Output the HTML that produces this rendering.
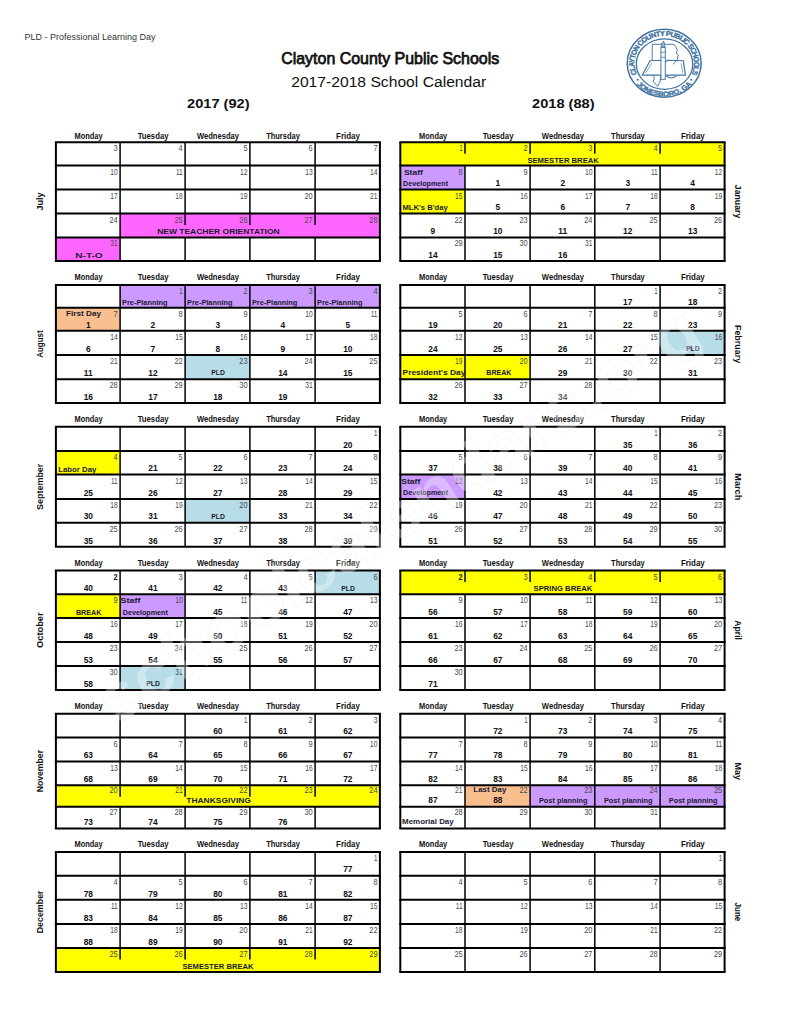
<!DOCTYPE html>
<html><head><meta charset="utf-8"><title>Clayton County Public Schools 2017-2018 School Calendar</title>
<style>
html,body{margin:0;padding:0;background:#fff;width:791px;height:1024px;overflow:hidden;}
svg{display:block;font-family:"Liberation Sans", sans-serif;}
</style></head><body>
<svg width="791" height="1024" viewBox="0 0 791 1024">
<g shape-rendering="crispEdges">
<rect x="120.10" y="213.50" width="259.80" height="23.90" fill="#ff66ff"/>
<rect x="55.90" y="237.40" width="64.20" height="23.50" fill="#ff66ff"/>
<rect x="120.10" y="285.10" width="65.00" height="22.70" fill="#cc99ff"/>
<rect x="185.10" y="285.10" width="64.80" height="22.70" fill="#cc99ff"/>
<rect x="249.90" y="285.10" width="65.20" height="22.70" fill="#cc99ff"/>
<rect x="315.10" y="285.10" width="64.80" height="22.70" fill="#cc99ff"/>
<rect x="55.90" y="307.80" width="64.20" height="23.00" fill="#fabf8f"/>
<rect x="185.10" y="355.00" width="64.80" height="24.30" fill="#b6dde8"/>
<rect x="55.90" y="451.00" width="64.20" height="23.60" fill="#ffff00"/>
<rect x="185.10" y="498.90" width="64.80" height="23.80" fill="#b6dde8"/>
<rect x="315.10" y="570.40" width="64.80" height="23.80" fill="#b6dde8"/>
<rect x="55.90" y="594.20" width="64.20" height="23.80" fill="#ffff00"/>
<rect x="120.10" y="594.20" width="65.00" height="23.80" fill="#cc99ff"/>
<rect x="120.10" y="666.00" width="65.00" height="23.90" fill="#b6dde8"/>
<rect x="55.90" y="785.30" width="324.00" height="21.40" fill="#ffff00"/>
<rect x="55.90" y="948.00" width="324.00" height="23.90" fill="#ffff00"/>
<rect x="400.30" y="142.20" width="324.30" height="23.40" fill="#ffff00"/>
<rect x="400.30" y="165.60" width="64.70" height="23.90" fill="#cc99ff"/>
<rect x="400.30" y="189.50" width="64.70" height="24.00" fill="#ffff00"/>
<rect x="660.10" y="330.80" width="64.50" height="24.20" fill="#b6dde8"/>
<rect x="400.30" y="355.00" width="64.70" height="24.30" fill="#ffff00"/>
<rect x="465.00" y="355.00" width="65.10" height="24.30" fill="#ffff00"/>
<rect x="400.30" y="474.60" width="64.70" height="24.30" fill="#cc99ff"/>
<rect x="400.30" y="570.40" width="324.30" height="23.80" fill="#ffff00"/>
<rect x="465.00" y="785.30" width="65.10" height="21.40" fill="#fabf8f"/>
<rect x="530.10" y="785.30" width="64.70" height="21.40" fill="#cc99ff"/>
<rect x="594.80" y="785.30" width="65.30" height="21.40" fill="#cc99ff"/>
<rect x="660.10" y="785.30" width="64.50" height="21.40" fill="#cc99ff"/>
</g>
<g stroke="#000">
<line x1="54.90" y1="142.20" x2="380.90" y2="142.20" stroke-width="2.0"/>
<line x1="54.90" y1="165.60" x2="380.90" y2="165.60" stroke-width="2.0"/>
<line x1="54.90" y1="189.50" x2="380.90" y2="189.50" stroke-width="2.0"/>
<line x1="54.90" y1="213.50" x2="380.90" y2="213.50" stroke-width="2.0"/>
<line x1="54.90" y1="237.40" x2="380.90" y2="237.40" stroke-width="2.0"/>
<line x1="54.90" y1="260.90" x2="380.90" y2="260.90" stroke-width="2.0"/>
<line x1="55.90" y1="142.20" x2="55.90" y2="165.60" stroke-width="2.0"/>
<line x1="55.90" y1="165.60" x2="55.90" y2="189.50" stroke-width="2.0"/>
<line x1="55.90" y1="189.50" x2="55.90" y2="213.50" stroke-width="2.0"/>
<line x1="55.90" y1="213.50" x2="55.90" y2="237.40" stroke-width="2.0"/>
<line x1="55.90" y1="237.40" x2="55.90" y2="260.90" stroke-width="2.0"/>
<line x1="120.10" y1="142.20" x2="120.10" y2="165.60" stroke-width="1.5"/>
<line x1="120.10" y1="165.60" x2="120.10" y2="189.50" stroke-width="1.5"/>
<line x1="120.10" y1="189.50" x2="120.10" y2="213.50" stroke-width="1.5"/>
<line x1="120.10" y1="213.50" x2="120.10" y2="237.40" stroke-width="1.5"/>
<line x1="120.10" y1="237.40" x2="120.10" y2="260.90" stroke-width="1.5"/>
<line x1="185.10" y1="142.20" x2="185.10" y2="165.60" stroke-width="1.5"/>
<line x1="185.10" y1="165.60" x2="185.10" y2="189.50" stroke-width="1.5"/>
<line x1="185.10" y1="189.50" x2="185.10" y2="213.50" stroke-width="1.5"/>
<line x1="185.10" y1="213.50" x2="185.10" y2="225.00" stroke-width="1.5"/>
<line x1="185.10" y1="237.40" x2="185.10" y2="260.90" stroke-width="1.5"/>
<line x1="249.90" y1="142.20" x2="249.90" y2="165.60" stroke-width="1.5"/>
<line x1="249.90" y1="165.60" x2="249.90" y2="189.50" stroke-width="1.5"/>
<line x1="249.90" y1="189.50" x2="249.90" y2="213.50" stroke-width="1.5"/>
<line x1="249.90" y1="213.50" x2="249.90" y2="225.00" stroke-width="1.5"/>
<line x1="249.90" y1="237.40" x2="249.90" y2="260.90" stroke-width="1.5"/>
<line x1="315.10" y1="142.20" x2="315.10" y2="165.60" stroke-width="1.5"/>
<line x1="315.10" y1="165.60" x2="315.10" y2="189.50" stroke-width="1.5"/>
<line x1="315.10" y1="189.50" x2="315.10" y2="213.50" stroke-width="1.5"/>
<line x1="315.10" y1="213.50" x2="315.10" y2="225.00" stroke-width="1.5"/>
<line x1="315.10" y1="237.40" x2="315.10" y2="260.90" stroke-width="1.5"/>
<line x1="379.90" y1="142.20" x2="379.90" y2="165.60" stroke-width="2.0"/>
<line x1="379.90" y1="165.60" x2="379.90" y2="189.50" stroke-width="2.0"/>
<line x1="379.90" y1="189.50" x2="379.90" y2="213.50" stroke-width="2.0"/>
<line x1="379.90" y1="213.50" x2="379.90" y2="237.40" stroke-width="2.0"/>
<line x1="379.90" y1="237.40" x2="379.90" y2="260.90" stroke-width="2.0"/>
<line x1="54.90" y1="285.10" x2="380.90" y2="285.10" stroke-width="2.0"/>
<line x1="54.90" y1="307.80" x2="380.90" y2="307.80" stroke-width="2.0"/>
<line x1="54.90" y1="330.80" x2="380.90" y2="330.80" stroke-width="2.0"/>
<line x1="54.90" y1="355.00" x2="380.90" y2="355.00" stroke-width="2.0"/>
<line x1="54.90" y1="379.30" x2="380.90" y2="379.30" stroke-width="2.0"/>
<line x1="54.90" y1="403.00" x2="380.90" y2="403.00" stroke-width="2.0"/>
<line x1="55.90" y1="285.10" x2="55.90" y2="307.80" stroke-width="2.0"/>
<line x1="55.90" y1="307.80" x2="55.90" y2="330.80" stroke-width="2.0"/>
<line x1="55.90" y1="330.80" x2="55.90" y2="355.00" stroke-width="2.0"/>
<line x1="55.90" y1="355.00" x2="55.90" y2="379.30" stroke-width="2.0"/>
<line x1="55.90" y1="379.30" x2="55.90" y2="403.00" stroke-width="2.0"/>
<line x1="120.10" y1="285.10" x2="120.10" y2="307.80" stroke-width="1.5"/>
<line x1="120.10" y1="307.80" x2="120.10" y2="330.80" stroke-width="1.5"/>
<line x1="120.10" y1="330.80" x2="120.10" y2="355.00" stroke-width="1.5"/>
<line x1="120.10" y1="355.00" x2="120.10" y2="379.30" stroke-width="1.5"/>
<line x1="120.10" y1="379.30" x2="120.10" y2="403.00" stroke-width="1.5"/>
<line x1="185.10" y1="285.10" x2="185.10" y2="307.80" stroke-width="1.5"/>
<line x1="185.10" y1="307.80" x2="185.10" y2="330.80" stroke-width="1.5"/>
<line x1="185.10" y1="330.80" x2="185.10" y2="355.00" stroke-width="1.5"/>
<line x1="185.10" y1="355.00" x2="185.10" y2="379.30" stroke-width="1.5"/>
<line x1="185.10" y1="379.30" x2="185.10" y2="403.00" stroke-width="1.5"/>
<line x1="249.90" y1="285.10" x2="249.90" y2="307.80" stroke-width="1.5"/>
<line x1="249.90" y1="307.80" x2="249.90" y2="330.80" stroke-width="1.5"/>
<line x1="249.90" y1="330.80" x2="249.90" y2="355.00" stroke-width="1.5"/>
<line x1="249.90" y1="355.00" x2="249.90" y2="379.30" stroke-width="1.5"/>
<line x1="249.90" y1="379.30" x2="249.90" y2="403.00" stroke-width="1.5"/>
<line x1="315.10" y1="285.10" x2="315.10" y2="307.80" stroke-width="1.5"/>
<line x1="315.10" y1="307.80" x2="315.10" y2="330.80" stroke-width="1.5"/>
<line x1="315.10" y1="330.80" x2="315.10" y2="355.00" stroke-width="1.5"/>
<line x1="315.10" y1="355.00" x2="315.10" y2="379.30" stroke-width="1.5"/>
<line x1="315.10" y1="379.30" x2="315.10" y2="403.00" stroke-width="1.5"/>
<line x1="379.90" y1="285.10" x2="379.90" y2="307.80" stroke-width="2.0"/>
<line x1="379.90" y1="307.80" x2="379.90" y2="330.80" stroke-width="2.0"/>
<line x1="379.90" y1="330.80" x2="379.90" y2="355.00" stroke-width="2.0"/>
<line x1="379.90" y1="355.00" x2="379.90" y2="379.30" stroke-width="2.0"/>
<line x1="379.90" y1="379.30" x2="379.90" y2="403.00" stroke-width="2.0"/>
<line x1="54.90" y1="426.80" x2="380.90" y2="426.80" stroke-width="2.0"/>
<line x1="54.90" y1="451.00" x2="380.90" y2="451.00" stroke-width="2.0"/>
<line x1="54.90" y1="474.60" x2="380.90" y2="474.60" stroke-width="2.0"/>
<line x1="54.90" y1="498.90" x2="380.90" y2="498.90" stroke-width="2.0"/>
<line x1="54.90" y1="522.70" x2="380.90" y2="522.70" stroke-width="2.0"/>
<line x1="54.90" y1="546.80" x2="380.90" y2="546.80" stroke-width="2.0"/>
<line x1="55.90" y1="426.80" x2="55.90" y2="451.00" stroke-width="2.0"/>
<line x1="55.90" y1="451.00" x2="55.90" y2="474.60" stroke-width="2.0"/>
<line x1="55.90" y1="474.60" x2="55.90" y2="498.90" stroke-width="2.0"/>
<line x1="55.90" y1="498.90" x2="55.90" y2="522.70" stroke-width="2.0"/>
<line x1="55.90" y1="522.70" x2="55.90" y2="546.80" stroke-width="2.0"/>
<line x1="120.10" y1="426.80" x2="120.10" y2="451.00" stroke-width="1.5"/>
<line x1="120.10" y1="451.00" x2="120.10" y2="474.60" stroke-width="1.5"/>
<line x1="120.10" y1="474.60" x2="120.10" y2="498.90" stroke-width="1.5"/>
<line x1="120.10" y1="498.90" x2="120.10" y2="522.70" stroke-width="1.5"/>
<line x1="120.10" y1="522.70" x2="120.10" y2="546.80" stroke-width="1.5"/>
<line x1="185.10" y1="426.80" x2="185.10" y2="451.00" stroke-width="1.5"/>
<line x1="185.10" y1="451.00" x2="185.10" y2="474.60" stroke-width="1.5"/>
<line x1="185.10" y1="474.60" x2="185.10" y2="498.90" stroke-width="1.5"/>
<line x1="185.10" y1="498.90" x2="185.10" y2="522.70" stroke-width="1.5"/>
<line x1="185.10" y1="522.70" x2="185.10" y2="546.80" stroke-width="1.5"/>
<line x1="249.90" y1="426.80" x2="249.90" y2="451.00" stroke-width="1.5"/>
<line x1="249.90" y1="451.00" x2="249.90" y2="474.60" stroke-width="1.5"/>
<line x1="249.90" y1="474.60" x2="249.90" y2="498.90" stroke-width="1.5"/>
<line x1="249.90" y1="498.90" x2="249.90" y2="522.70" stroke-width="1.5"/>
<line x1="249.90" y1="522.70" x2="249.90" y2="546.80" stroke-width="1.5"/>
<line x1="315.10" y1="426.80" x2="315.10" y2="451.00" stroke-width="1.5"/>
<line x1="315.10" y1="451.00" x2="315.10" y2="474.60" stroke-width="1.5"/>
<line x1="315.10" y1="474.60" x2="315.10" y2="498.90" stroke-width="1.5"/>
<line x1="315.10" y1="498.90" x2="315.10" y2="522.70" stroke-width="1.5"/>
<line x1="315.10" y1="522.70" x2="315.10" y2="546.80" stroke-width="1.5"/>
<line x1="379.90" y1="426.80" x2="379.90" y2="451.00" stroke-width="2.0"/>
<line x1="379.90" y1="451.00" x2="379.90" y2="474.60" stroke-width="2.0"/>
<line x1="379.90" y1="474.60" x2="379.90" y2="498.90" stroke-width="2.0"/>
<line x1="379.90" y1="498.90" x2="379.90" y2="522.70" stroke-width="2.0"/>
<line x1="379.90" y1="522.70" x2="379.90" y2="546.80" stroke-width="2.0"/>
<line x1="54.90" y1="570.40" x2="380.90" y2="570.40" stroke-width="2.0"/>
<line x1="54.90" y1="594.20" x2="380.90" y2="594.20" stroke-width="2.0"/>
<line x1="54.90" y1="618.00" x2="380.90" y2="618.00" stroke-width="2.0"/>
<line x1="54.90" y1="642.10" x2="380.90" y2="642.10" stroke-width="2.0"/>
<line x1="54.90" y1="666.00" x2="380.90" y2="666.00" stroke-width="2.0"/>
<line x1="54.90" y1="689.90" x2="380.90" y2="689.90" stroke-width="2.0"/>
<line x1="55.90" y1="570.40" x2="55.90" y2="594.20" stroke-width="2.0"/>
<line x1="55.90" y1="594.20" x2="55.90" y2="618.00" stroke-width="2.0"/>
<line x1="55.90" y1="618.00" x2="55.90" y2="642.10" stroke-width="2.0"/>
<line x1="55.90" y1="642.10" x2="55.90" y2="666.00" stroke-width="2.0"/>
<line x1="55.90" y1="666.00" x2="55.90" y2="689.90" stroke-width="2.0"/>
<line x1="120.10" y1="570.40" x2="120.10" y2="594.20" stroke-width="1.5"/>
<line x1="120.10" y1="594.20" x2="120.10" y2="618.00" stroke-width="1.5"/>
<line x1="120.10" y1="618.00" x2="120.10" y2="642.10" stroke-width="1.5"/>
<line x1="120.10" y1="642.10" x2="120.10" y2="666.00" stroke-width="1.5"/>
<line x1="120.10" y1="666.00" x2="120.10" y2="689.90" stroke-width="1.5"/>
<line x1="185.10" y1="570.40" x2="185.10" y2="594.20" stroke-width="1.5"/>
<line x1="185.10" y1="594.20" x2="185.10" y2="618.00" stroke-width="1.5"/>
<line x1="185.10" y1="618.00" x2="185.10" y2="642.10" stroke-width="1.5"/>
<line x1="185.10" y1="642.10" x2="185.10" y2="666.00" stroke-width="1.5"/>
<line x1="185.10" y1="666.00" x2="185.10" y2="689.90" stroke-width="1.5"/>
<line x1="249.90" y1="570.40" x2="249.90" y2="594.20" stroke-width="1.5"/>
<line x1="249.90" y1="594.20" x2="249.90" y2="618.00" stroke-width="1.5"/>
<line x1="249.90" y1="618.00" x2="249.90" y2="642.10" stroke-width="1.5"/>
<line x1="249.90" y1="642.10" x2="249.90" y2="666.00" stroke-width="1.5"/>
<line x1="249.90" y1="666.00" x2="249.90" y2="689.90" stroke-width="1.5"/>
<line x1="315.10" y1="570.40" x2="315.10" y2="594.20" stroke-width="1.5"/>
<line x1="315.10" y1="594.20" x2="315.10" y2="618.00" stroke-width="1.5"/>
<line x1="315.10" y1="618.00" x2="315.10" y2="642.10" stroke-width="1.5"/>
<line x1="315.10" y1="642.10" x2="315.10" y2="666.00" stroke-width="1.5"/>
<line x1="315.10" y1="666.00" x2="315.10" y2="689.90" stroke-width="1.5"/>
<line x1="379.90" y1="570.40" x2="379.90" y2="594.20" stroke-width="2.0"/>
<line x1="379.90" y1="594.20" x2="379.90" y2="618.00" stroke-width="2.0"/>
<line x1="379.90" y1="618.00" x2="379.90" y2="642.10" stroke-width="2.0"/>
<line x1="379.90" y1="642.10" x2="379.90" y2="666.00" stroke-width="2.0"/>
<line x1="379.90" y1="666.00" x2="379.90" y2="689.90" stroke-width="2.0"/>
<line x1="54.90" y1="713.80" x2="380.90" y2="713.80" stroke-width="2.0"/>
<line x1="54.90" y1="737.60" x2="380.90" y2="737.60" stroke-width="2.0"/>
<line x1="54.90" y1="761.40" x2="380.90" y2="761.40" stroke-width="2.0"/>
<line x1="54.90" y1="785.30" x2="380.90" y2="785.30" stroke-width="2.0"/>
<line x1="54.90" y1="806.70" x2="380.90" y2="806.70" stroke-width="2.0"/>
<line x1="54.90" y1="828.50" x2="380.90" y2="828.50" stroke-width="2.0"/>
<line x1="55.90" y1="713.80" x2="55.90" y2="737.60" stroke-width="2.0"/>
<line x1="55.90" y1="737.60" x2="55.90" y2="761.40" stroke-width="2.0"/>
<line x1="55.90" y1="761.40" x2="55.90" y2="785.30" stroke-width="2.0"/>
<line x1="55.90" y1="785.30" x2="55.90" y2="806.70" stroke-width="2.0"/>
<line x1="55.90" y1="806.70" x2="55.90" y2="828.50" stroke-width="2.0"/>
<line x1="120.10" y1="713.80" x2="120.10" y2="737.60" stroke-width="1.5"/>
<line x1="120.10" y1="737.60" x2="120.10" y2="761.40" stroke-width="1.5"/>
<line x1="120.10" y1="761.40" x2="120.10" y2="785.30" stroke-width="1.5"/>
<line x1="120.10" y1="785.30" x2="120.10" y2="796.80" stroke-width="1.5"/>
<line x1="120.10" y1="806.70" x2="120.10" y2="828.50" stroke-width="1.5"/>
<line x1="185.10" y1="713.80" x2="185.10" y2="737.60" stroke-width="1.5"/>
<line x1="185.10" y1="737.60" x2="185.10" y2="761.40" stroke-width="1.5"/>
<line x1="185.10" y1="761.40" x2="185.10" y2="785.30" stroke-width="1.5"/>
<line x1="185.10" y1="785.30" x2="185.10" y2="796.80" stroke-width="1.5"/>
<line x1="185.10" y1="806.70" x2="185.10" y2="828.50" stroke-width="1.5"/>
<line x1="249.90" y1="713.80" x2="249.90" y2="737.60" stroke-width="1.5"/>
<line x1="249.90" y1="737.60" x2="249.90" y2="761.40" stroke-width="1.5"/>
<line x1="249.90" y1="761.40" x2="249.90" y2="785.30" stroke-width="1.5"/>
<line x1="249.90" y1="785.30" x2="249.90" y2="796.80" stroke-width="1.5"/>
<line x1="249.90" y1="806.70" x2="249.90" y2="828.50" stroke-width="1.5"/>
<line x1="315.10" y1="713.80" x2="315.10" y2="737.60" stroke-width="1.5"/>
<line x1="315.10" y1="737.60" x2="315.10" y2="761.40" stroke-width="1.5"/>
<line x1="315.10" y1="761.40" x2="315.10" y2="785.30" stroke-width="1.5"/>
<line x1="315.10" y1="785.30" x2="315.10" y2="796.80" stroke-width="1.5"/>
<line x1="315.10" y1="806.70" x2="315.10" y2="828.50" stroke-width="1.5"/>
<line x1="379.90" y1="713.80" x2="379.90" y2="737.60" stroke-width="2.0"/>
<line x1="379.90" y1="737.60" x2="379.90" y2="761.40" stroke-width="2.0"/>
<line x1="379.90" y1="761.40" x2="379.90" y2="785.30" stroke-width="2.0"/>
<line x1="379.90" y1="785.30" x2="379.90" y2="806.70" stroke-width="2.0"/>
<line x1="379.90" y1="806.70" x2="379.90" y2="828.50" stroke-width="2.0"/>
<line x1="54.90" y1="851.90" x2="380.90" y2="851.90" stroke-width="2.0"/>
<line x1="54.90" y1="875.70" x2="380.90" y2="875.70" stroke-width="2.0"/>
<line x1="54.90" y1="899.80" x2="380.90" y2="899.80" stroke-width="2.0"/>
<line x1="54.90" y1="924.10" x2="380.90" y2="924.10" stroke-width="2.0"/>
<line x1="54.90" y1="948.00" x2="380.90" y2="948.00" stroke-width="2.0"/>
<line x1="54.90" y1="971.90" x2="380.90" y2="971.90" stroke-width="2.0"/>
<line x1="55.90" y1="851.90" x2="55.90" y2="875.70" stroke-width="2.0"/>
<line x1="55.90" y1="875.70" x2="55.90" y2="899.80" stroke-width="2.0"/>
<line x1="55.90" y1="899.80" x2="55.90" y2="924.10" stroke-width="2.0"/>
<line x1="55.90" y1="924.10" x2="55.90" y2="948.00" stroke-width="2.0"/>
<line x1="55.90" y1="948.00" x2="55.90" y2="971.90" stroke-width="2.0"/>
<line x1="120.10" y1="851.90" x2="120.10" y2="875.70" stroke-width="1.5"/>
<line x1="120.10" y1="875.70" x2="120.10" y2="899.80" stroke-width="1.5"/>
<line x1="120.10" y1="899.80" x2="120.10" y2="924.10" stroke-width="1.5"/>
<line x1="120.10" y1="924.10" x2="120.10" y2="948.00" stroke-width="1.5"/>
<line x1="120.10" y1="948.00" x2="120.10" y2="959.50" stroke-width="1.5"/>
<line x1="185.10" y1="851.90" x2="185.10" y2="875.70" stroke-width="1.5"/>
<line x1="185.10" y1="875.70" x2="185.10" y2="899.80" stroke-width="1.5"/>
<line x1="185.10" y1="899.80" x2="185.10" y2="924.10" stroke-width="1.5"/>
<line x1="185.10" y1="924.10" x2="185.10" y2="948.00" stroke-width="1.5"/>
<line x1="185.10" y1="948.00" x2="185.10" y2="959.50" stroke-width="1.5"/>
<line x1="249.90" y1="851.90" x2="249.90" y2="875.70" stroke-width="1.5"/>
<line x1="249.90" y1="875.70" x2="249.90" y2="899.80" stroke-width="1.5"/>
<line x1="249.90" y1="899.80" x2="249.90" y2="924.10" stroke-width="1.5"/>
<line x1="249.90" y1="924.10" x2="249.90" y2="948.00" stroke-width="1.5"/>
<line x1="249.90" y1="948.00" x2="249.90" y2="959.50" stroke-width="1.5"/>
<line x1="315.10" y1="851.90" x2="315.10" y2="875.70" stroke-width="1.5"/>
<line x1="315.10" y1="875.70" x2="315.10" y2="899.80" stroke-width="1.5"/>
<line x1="315.10" y1="899.80" x2="315.10" y2="924.10" stroke-width="1.5"/>
<line x1="315.10" y1="924.10" x2="315.10" y2="948.00" stroke-width="1.5"/>
<line x1="315.10" y1="948.00" x2="315.10" y2="959.50" stroke-width="1.5"/>
<line x1="379.90" y1="851.90" x2="379.90" y2="875.70" stroke-width="2.0"/>
<line x1="379.90" y1="875.70" x2="379.90" y2="899.80" stroke-width="2.0"/>
<line x1="379.90" y1="899.80" x2="379.90" y2="924.10" stroke-width="2.0"/>
<line x1="379.90" y1="924.10" x2="379.90" y2="948.00" stroke-width="2.0"/>
<line x1="379.90" y1="948.00" x2="379.90" y2="971.90" stroke-width="2.0"/>
<line x1="399.30" y1="142.20" x2="725.60" y2="142.20" stroke-width="2.0"/>
<line x1="399.30" y1="165.60" x2="725.60" y2="165.60" stroke-width="2.0"/>
<line x1="399.30" y1="189.50" x2="725.60" y2="189.50" stroke-width="2.0"/>
<line x1="399.30" y1="213.50" x2="725.60" y2="213.50" stroke-width="2.0"/>
<line x1="399.30" y1="237.40" x2="725.60" y2="237.40" stroke-width="2.0"/>
<line x1="399.30" y1="260.90" x2="725.60" y2="260.90" stroke-width="2.0"/>
<line x1="400.30" y1="142.20" x2="400.30" y2="165.60" stroke-width="2.0"/>
<line x1="400.30" y1="165.60" x2="400.30" y2="189.50" stroke-width="2.0"/>
<line x1="400.30" y1="189.50" x2="400.30" y2="213.50" stroke-width="2.0"/>
<line x1="400.30" y1="213.50" x2="400.30" y2="237.40" stroke-width="2.0"/>
<line x1="400.30" y1="237.40" x2="400.30" y2="260.90" stroke-width="2.0"/>
<line x1="465.00" y1="142.20" x2="465.00" y2="153.70" stroke-width="1.5"/>
<line x1="465.00" y1="165.60" x2="465.00" y2="189.50" stroke-width="1.5"/>
<line x1="465.00" y1="189.50" x2="465.00" y2="213.50" stroke-width="1.5"/>
<line x1="465.00" y1="213.50" x2="465.00" y2="237.40" stroke-width="1.5"/>
<line x1="465.00" y1="237.40" x2="465.00" y2="260.90" stroke-width="1.5"/>
<line x1="530.10" y1="142.20" x2="530.10" y2="153.70" stroke-width="1.5"/>
<line x1="530.10" y1="165.60" x2="530.10" y2="189.50" stroke-width="1.5"/>
<line x1="530.10" y1="189.50" x2="530.10" y2="213.50" stroke-width="1.5"/>
<line x1="530.10" y1="213.50" x2="530.10" y2="237.40" stroke-width="1.5"/>
<line x1="530.10" y1="237.40" x2="530.10" y2="260.90" stroke-width="1.5"/>
<line x1="594.80" y1="142.20" x2="594.80" y2="153.70" stroke-width="1.5"/>
<line x1="594.80" y1="165.60" x2="594.80" y2="189.50" stroke-width="1.5"/>
<line x1="594.80" y1="189.50" x2="594.80" y2="213.50" stroke-width="1.5"/>
<line x1="594.80" y1="213.50" x2="594.80" y2="237.40" stroke-width="1.5"/>
<line x1="594.80" y1="237.40" x2="594.80" y2="260.90" stroke-width="1.5"/>
<line x1="660.10" y1="142.20" x2="660.10" y2="153.70" stroke-width="1.5"/>
<line x1="660.10" y1="165.60" x2="660.10" y2="189.50" stroke-width="1.5"/>
<line x1="660.10" y1="189.50" x2="660.10" y2="213.50" stroke-width="1.5"/>
<line x1="660.10" y1="213.50" x2="660.10" y2="237.40" stroke-width="1.5"/>
<line x1="660.10" y1="237.40" x2="660.10" y2="260.90" stroke-width="1.5"/>
<line x1="724.60" y1="142.20" x2="724.60" y2="165.60" stroke-width="2.0"/>
<line x1="724.60" y1="165.60" x2="724.60" y2="189.50" stroke-width="2.0"/>
<line x1="724.60" y1="189.50" x2="724.60" y2="213.50" stroke-width="2.0"/>
<line x1="724.60" y1="213.50" x2="724.60" y2="237.40" stroke-width="2.0"/>
<line x1="724.60" y1="237.40" x2="724.60" y2="260.90" stroke-width="2.0"/>
<line x1="399.30" y1="285.10" x2="725.60" y2="285.10" stroke-width="2.0"/>
<line x1="399.30" y1="307.80" x2="725.60" y2="307.80" stroke-width="2.0"/>
<line x1="399.30" y1="330.80" x2="725.60" y2="330.80" stroke-width="2.0"/>
<line x1="399.30" y1="355.00" x2="725.60" y2="355.00" stroke-width="2.0"/>
<line x1="399.30" y1="379.30" x2="725.60" y2="379.30" stroke-width="2.0"/>
<line x1="399.30" y1="403.00" x2="725.60" y2="403.00" stroke-width="2.0"/>
<line x1="400.30" y1="285.10" x2="400.30" y2="307.80" stroke-width="2.0"/>
<line x1="400.30" y1="307.80" x2="400.30" y2="330.80" stroke-width="2.0"/>
<line x1="400.30" y1="330.80" x2="400.30" y2="355.00" stroke-width="2.0"/>
<line x1="400.30" y1="355.00" x2="400.30" y2="379.30" stroke-width="2.0"/>
<line x1="400.30" y1="379.30" x2="400.30" y2="403.00" stroke-width="2.0"/>
<line x1="465.00" y1="285.10" x2="465.00" y2="307.80" stroke-width="1.5"/>
<line x1="465.00" y1="307.80" x2="465.00" y2="330.80" stroke-width="1.5"/>
<line x1="465.00" y1="330.80" x2="465.00" y2="355.00" stroke-width="1.5"/>
<line x1="465.00" y1="355.00" x2="465.00" y2="379.30" stroke-width="1.5"/>
<line x1="465.00" y1="379.30" x2="465.00" y2="403.00" stroke-width="1.5"/>
<line x1="530.10" y1="285.10" x2="530.10" y2="307.80" stroke-width="1.5"/>
<line x1="530.10" y1="307.80" x2="530.10" y2="330.80" stroke-width="1.5"/>
<line x1="530.10" y1="330.80" x2="530.10" y2="355.00" stroke-width="1.5"/>
<line x1="530.10" y1="355.00" x2="530.10" y2="379.30" stroke-width="1.5"/>
<line x1="530.10" y1="379.30" x2="530.10" y2="403.00" stroke-width="1.5"/>
<line x1="594.80" y1="285.10" x2="594.80" y2="307.80" stroke-width="1.5"/>
<line x1="594.80" y1="307.80" x2="594.80" y2="330.80" stroke-width="1.5"/>
<line x1="594.80" y1="330.80" x2="594.80" y2="355.00" stroke-width="1.5"/>
<line x1="594.80" y1="355.00" x2="594.80" y2="379.30" stroke-width="1.5"/>
<line x1="594.80" y1="379.30" x2="594.80" y2="403.00" stroke-width="1.5"/>
<line x1="660.10" y1="285.10" x2="660.10" y2="307.80" stroke-width="1.5"/>
<line x1="660.10" y1="307.80" x2="660.10" y2="330.80" stroke-width="1.5"/>
<line x1="660.10" y1="330.80" x2="660.10" y2="355.00" stroke-width="1.5"/>
<line x1="660.10" y1="355.00" x2="660.10" y2="379.30" stroke-width="1.5"/>
<line x1="660.10" y1="379.30" x2="660.10" y2="403.00" stroke-width="1.5"/>
<line x1="724.60" y1="285.10" x2="724.60" y2="307.80" stroke-width="2.0"/>
<line x1="724.60" y1="307.80" x2="724.60" y2="330.80" stroke-width="2.0"/>
<line x1="724.60" y1="330.80" x2="724.60" y2="355.00" stroke-width="2.0"/>
<line x1="724.60" y1="355.00" x2="724.60" y2="379.30" stroke-width="2.0"/>
<line x1="724.60" y1="379.30" x2="724.60" y2="403.00" stroke-width="2.0"/>
<line x1="399.30" y1="426.80" x2="725.60" y2="426.80" stroke-width="2.0"/>
<line x1="399.30" y1="451.00" x2="725.60" y2="451.00" stroke-width="2.0"/>
<line x1="399.30" y1="474.60" x2="725.60" y2="474.60" stroke-width="2.0"/>
<line x1="399.30" y1="498.90" x2="725.60" y2="498.90" stroke-width="2.0"/>
<line x1="399.30" y1="522.70" x2="725.60" y2="522.70" stroke-width="2.0"/>
<line x1="399.30" y1="546.80" x2="725.60" y2="546.80" stroke-width="2.0"/>
<line x1="400.30" y1="426.80" x2="400.30" y2="451.00" stroke-width="2.0"/>
<line x1="400.30" y1="451.00" x2="400.30" y2="474.60" stroke-width="2.0"/>
<line x1="400.30" y1="474.60" x2="400.30" y2="498.90" stroke-width="2.0"/>
<line x1="400.30" y1="498.90" x2="400.30" y2="522.70" stroke-width="2.0"/>
<line x1="400.30" y1="522.70" x2="400.30" y2="546.80" stroke-width="2.0"/>
<line x1="465.00" y1="426.80" x2="465.00" y2="451.00" stroke-width="1.5"/>
<line x1="465.00" y1="451.00" x2="465.00" y2="474.60" stroke-width="1.5"/>
<line x1="465.00" y1="474.60" x2="465.00" y2="498.90" stroke-width="1.5"/>
<line x1="465.00" y1="498.90" x2="465.00" y2="522.70" stroke-width="1.5"/>
<line x1="465.00" y1="522.70" x2="465.00" y2="546.80" stroke-width="1.5"/>
<line x1="530.10" y1="426.80" x2="530.10" y2="451.00" stroke-width="1.5"/>
<line x1="530.10" y1="451.00" x2="530.10" y2="474.60" stroke-width="1.5"/>
<line x1="530.10" y1="474.60" x2="530.10" y2="498.90" stroke-width="1.5"/>
<line x1="530.10" y1="498.90" x2="530.10" y2="522.70" stroke-width="1.5"/>
<line x1="530.10" y1="522.70" x2="530.10" y2="546.80" stroke-width="1.5"/>
<line x1="594.80" y1="426.80" x2="594.80" y2="451.00" stroke-width="1.5"/>
<line x1="594.80" y1="451.00" x2="594.80" y2="474.60" stroke-width="1.5"/>
<line x1="594.80" y1="474.60" x2="594.80" y2="498.90" stroke-width="1.5"/>
<line x1="594.80" y1="498.90" x2="594.80" y2="522.70" stroke-width="1.5"/>
<line x1="594.80" y1="522.70" x2="594.80" y2="546.80" stroke-width="1.5"/>
<line x1="660.10" y1="426.80" x2="660.10" y2="451.00" stroke-width="1.5"/>
<line x1="660.10" y1="451.00" x2="660.10" y2="474.60" stroke-width="1.5"/>
<line x1="660.10" y1="474.60" x2="660.10" y2="498.90" stroke-width="1.5"/>
<line x1="660.10" y1="498.90" x2="660.10" y2="522.70" stroke-width="1.5"/>
<line x1="660.10" y1="522.70" x2="660.10" y2="546.80" stroke-width="1.5"/>
<line x1="724.60" y1="426.80" x2="724.60" y2="451.00" stroke-width="2.0"/>
<line x1="724.60" y1="451.00" x2="724.60" y2="474.60" stroke-width="2.0"/>
<line x1="724.60" y1="474.60" x2="724.60" y2="498.90" stroke-width="2.0"/>
<line x1="724.60" y1="498.90" x2="724.60" y2="522.70" stroke-width="2.0"/>
<line x1="724.60" y1="522.70" x2="724.60" y2="546.80" stroke-width="2.0"/>
<line x1="399.30" y1="570.40" x2="725.60" y2="570.40" stroke-width="2.0"/>
<line x1="399.30" y1="594.20" x2="725.60" y2="594.20" stroke-width="2.0"/>
<line x1="399.30" y1="618.00" x2="725.60" y2="618.00" stroke-width="2.0"/>
<line x1="399.30" y1="642.10" x2="725.60" y2="642.10" stroke-width="2.0"/>
<line x1="399.30" y1="666.00" x2="725.60" y2="666.00" stroke-width="2.0"/>
<line x1="399.30" y1="689.90" x2="725.60" y2="689.90" stroke-width="2.0"/>
<line x1="400.30" y1="570.40" x2="400.30" y2="594.20" stroke-width="2.0"/>
<line x1="400.30" y1="594.20" x2="400.30" y2="618.00" stroke-width="2.0"/>
<line x1="400.30" y1="618.00" x2="400.30" y2="642.10" stroke-width="2.0"/>
<line x1="400.30" y1="642.10" x2="400.30" y2="666.00" stroke-width="2.0"/>
<line x1="400.30" y1="666.00" x2="400.30" y2="689.90" stroke-width="2.0"/>
<line x1="465.00" y1="570.40" x2="465.00" y2="581.90" stroke-width="1.5"/>
<line x1="465.00" y1="594.20" x2="465.00" y2="618.00" stroke-width="1.5"/>
<line x1="465.00" y1="618.00" x2="465.00" y2="642.10" stroke-width="1.5"/>
<line x1="465.00" y1="642.10" x2="465.00" y2="666.00" stroke-width="1.5"/>
<line x1="465.00" y1="666.00" x2="465.00" y2="689.90" stroke-width="1.5"/>
<line x1="530.10" y1="570.40" x2="530.10" y2="581.90" stroke-width="1.5"/>
<line x1="530.10" y1="594.20" x2="530.10" y2="618.00" stroke-width="1.5"/>
<line x1="530.10" y1="618.00" x2="530.10" y2="642.10" stroke-width="1.5"/>
<line x1="530.10" y1="642.10" x2="530.10" y2="666.00" stroke-width="1.5"/>
<line x1="530.10" y1="666.00" x2="530.10" y2="689.90" stroke-width="1.5"/>
<line x1="594.80" y1="570.40" x2="594.80" y2="581.90" stroke-width="1.5"/>
<line x1="594.80" y1="594.20" x2="594.80" y2="618.00" stroke-width="1.5"/>
<line x1="594.80" y1="618.00" x2="594.80" y2="642.10" stroke-width="1.5"/>
<line x1="594.80" y1="642.10" x2="594.80" y2="666.00" stroke-width="1.5"/>
<line x1="594.80" y1="666.00" x2="594.80" y2="689.90" stroke-width="1.5"/>
<line x1="660.10" y1="570.40" x2="660.10" y2="581.90" stroke-width="1.5"/>
<line x1="660.10" y1="594.20" x2="660.10" y2="618.00" stroke-width="1.5"/>
<line x1="660.10" y1="618.00" x2="660.10" y2="642.10" stroke-width="1.5"/>
<line x1="660.10" y1="642.10" x2="660.10" y2="666.00" stroke-width="1.5"/>
<line x1="660.10" y1="666.00" x2="660.10" y2="689.90" stroke-width="1.5"/>
<line x1="724.60" y1="570.40" x2="724.60" y2="594.20" stroke-width="2.0"/>
<line x1="724.60" y1="594.20" x2="724.60" y2="618.00" stroke-width="2.0"/>
<line x1="724.60" y1="618.00" x2="724.60" y2="642.10" stroke-width="2.0"/>
<line x1="724.60" y1="642.10" x2="724.60" y2="666.00" stroke-width="2.0"/>
<line x1="724.60" y1="666.00" x2="724.60" y2="689.90" stroke-width="2.0"/>
<line x1="399.30" y1="713.80" x2="725.60" y2="713.80" stroke-width="2.0"/>
<line x1="399.30" y1="737.60" x2="725.60" y2="737.60" stroke-width="2.0"/>
<line x1="399.30" y1="761.40" x2="725.60" y2="761.40" stroke-width="2.0"/>
<line x1="399.30" y1="785.30" x2="725.60" y2="785.30" stroke-width="2.0"/>
<line x1="399.30" y1="806.70" x2="725.60" y2="806.70" stroke-width="2.0"/>
<line x1="399.30" y1="828.50" x2="725.60" y2="828.50" stroke-width="2.0"/>
<line x1="400.30" y1="713.80" x2="400.30" y2="737.60" stroke-width="2.0"/>
<line x1="400.30" y1="737.60" x2="400.30" y2="761.40" stroke-width="2.0"/>
<line x1="400.30" y1="761.40" x2="400.30" y2="785.30" stroke-width="2.0"/>
<line x1="400.30" y1="785.30" x2="400.30" y2="806.70" stroke-width="2.0"/>
<line x1="400.30" y1="806.70" x2="400.30" y2="828.50" stroke-width="2.0"/>
<line x1="465.00" y1="713.80" x2="465.00" y2="737.60" stroke-width="1.5"/>
<line x1="465.00" y1="737.60" x2="465.00" y2="761.40" stroke-width="1.5"/>
<line x1="465.00" y1="761.40" x2="465.00" y2="785.30" stroke-width="1.5"/>
<line x1="465.00" y1="785.30" x2="465.00" y2="806.70" stroke-width="1.5"/>
<line x1="465.00" y1="806.70" x2="465.00" y2="828.50" stroke-width="1.5"/>
<line x1="530.10" y1="713.80" x2="530.10" y2="737.60" stroke-width="1.5"/>
<line x1="530.10" y1="737.60" x2="530.10" y2="761.40" stroke-width="1.5"/>
<line x1="530.10" y1="761.40" x2="530.10" y2="785.30" stroke-width="1.5"/>
<line x1="530.10" y1="785.30" x2="530.10" y2="806.70" stroke-width="1.5"/>
<line x1="530.10" y1="806.70" x2="530.10" y2="828.50" stroke-width="1.5"/>
<line x1="594.80" y1="713.80" x2="594.80" y2="737.60" stroke-width="1.5"/>
<line x1="594.80" y1="737.60" x2="594.80" y2="761.40" stroke-width="1.5"/>
<line x1="594.80" y1="761.40" x2="594.80" y2="785.30" stroke-width="1.5"/>
<line x1="594.80" y1="785.30" x2="594.80" y2="806.70" stroke-width="1.5"/>
<line x1="594.80" y1="806.70" x2="594.80" y2="828.50" stroke-width="1.5"/>
<line x1="660.10" y1="713.80" x2="660.10" y2="737.60" stroke-width="1.5"/>
<line x1="660.10" y1="737.60" x2="660.10" y2="761.40" stroke-width="1.5"/>
<line x1="660.10" y1="761.40" x2="660.10" y2="785.30" stroke-width="1.5"/>
<line x1="660.10" y1="785.30" x2="660.10" y2="806.70" stroke-width="1.5"/>
<line x1="660.10" y1="806.70" x2="660.10" y2="828.50" stroke-width="1.5"/>
<line x1="724.60" y1="713.80" x2="724.60" y2="737.60" stroke-width="2.0"/>
<line x1="724.60" y1="737.60" x2="724.60" y2="761.40" stroke-width="2.0"/>
<line x1="724.60" y1="761.40" x2="724.60" y2="785.30" stroke-width="2.0"/>
<line x1="724.60" y1="785.30" x2="724.60" y2="806.70" stroke-width="2.0"/>
<line x1="724.60" y1="806.70" x2="724.60" y2="828.50" stroke-width="2.0"/>
<line x1="399.30" y1="851.90" x2="725.60" y2="851.90" stroke-width="2.0"/>
<line x1="399.30" y1="875.70" x2="725.60" y2="875.70" stroke-width="2.0"/>
<line x1="399.30" y1="899.80" x2="725.60" y2="899.80" stroke-width="2.0"/>
<line x1="399.30" y1="924.10" x2="725.60" y2="924.10" stroke-width="2.0"/>
<line x1="399.30" y1="948.00" x2="725.60" y2="948.00" stroke-width="2.0"/>
<line x1="399.30" y1="971.90" x2="725.60" y2="971.90" stroke-width="2.0"/>
<line x1="400.30" y1="851.90" x2="400.30" y2="875.70" stroke-width="2.0"/>
<line x1="400.30" y1="875.70" x2="400.30" y2="899.80" stroke-width="2.0"/>
<line x1="400.30" y1="899.80" x2="400.30" y2="924.10" stroke-width="2.0"/>
<line x1="400.30" y1="924.10" x2="400.30" y2="948.00" stroke-width="2.0"/>
<line x1="400.30" y1="948.00" x2="400.30" y2="971.90" stroke-width="2.0"/>
<line x1="465.00" y1="851.90" x2="465.00" y2="875.70" stroke-width="1.5"/>
<line x1="465.00" y1="875.70" x2="465.00" y2="899.80" stroke-width="1.5"/>
<line x1="465.00" y1="899.80" x2="465.00" y2="924.10" stroke-width="1.5"/>
<line x1="465.00" y1="924.10" x2="465.00" y2="948.00" stroke-width="1.5"/>
<line x1="465.00" y1="948.00" x2="465.00" y2="971.90" stroke-width="1.5"/>
<line x1="530.10" y1="851.90" x2="530.10" y2="875.70" stroke-width="1.5"/>
<line x1="530.10" y1="875.70" x2="530.10" y2="899.80" stroke-width="1.5"/>
<line x1="530.10" y1="899.80" x2="530.10" y2="924.10" stroke-width="1.5"/>
<line x1="530.10" y1="924.10" x2="530.10" y2="948.00" stroke-width="1.5"/>
<line x1="530.10" y1="948.00" x2="530.10" y2="971.90" stroke-width="1.5"/>
<line x1="594.80" y1="851.90" x2="594.80" y2="875.70" stroke-width="1.5"/>
<line x1="594.80" y1="875.70" x2="594.80" y2="899.80" stroke-width="1.5"/>
<line x1="594.80" y1="899.80" x2="594.80" y2="924.10" stroke-width="1.5"/>
<line x1="594.80" y1="924.10" x2="594.80" y2="948.00" stroke-width="1.5"/>
<line x1="594.80" y1="948.00" x2="594.80" y2="971.90" stroke-width="1.5"/>
<line x1="660.10" y1="851.90" x2="660.10" y2="875.70" stroke-width="1.5"/>
<line x1="660.10" y1="875.70" x2="660.10" y2="899.80" stroke-width="1.5"/>
<line x1="660.10" y1="899.80" x2="660.10" y2="924.10" stroke-width="1.5"/>
<line x1="660.10" y1="924.10" x2="660.10" y2="948.00" stroke-width="1.5"/>
<line x1="660.10" y1="948.00" x2="660.10" y2="971.90" stroke-width="1.5"/>
<line x1="724.60" y1="851.90" x2="724.60" y2="875.70" stroke-width="2.0"/>
<line x1="724.60" y1="875.70" x2="724.60" y2="899.80" stroke-width="2.0"/>
<line x1="724.60" y1="899.80" x2="724.60" y2="924.10" stroke-width="2.0"/>
<line x1="724.60" y1="924.10" x2="724.60" y2="948.00" stroke-width="2.0"/>
<line x1="724.60" y1="948.00" x2="724.60" y2="971.90" stroke-width="2.0"/>
</g>
<g font-family='"Liberation Sans", sans-serif' fill="#111">
<text x="88.50" y="138.70" font-size="8.4" font-weight="bold" text-anchor="middle" textLength="28.1" lengthAdjust="spacingAndGlyphs">Monday</text>
<text x="153.10" y="138.70" font-size="8.4" font-weight="bold" text-anchor="middle" textLength="30.8" lengthAdjust="spacingAndGlyphs">Tuesday</text>
<text x="218.00" y="138.70" font-size="8.4" font-weight="bold" text-anchor="middle" textLength="42.2" lengthAdjust="spacingAndGlyphs">Wednesday</text>
<text x="283.00" y="138.70" font-size="8.4" font-weight="bold" text-anchor="middle" textLength="33.7" lengthAdjust="spacingAndGlyphs">Thursday</text>
<text x="348.00" y="138.70" font-size="8.4" font-weight="bold" text-anchor="middle" textLength="23.8" lengthAdjust="spacingAndGlyphs">Friday</text>
<text x="117.70" y="151.16" font-size="9.3" text-anchor="end" fill="#4a4a4a" textLength="4.1" lengthAdjust="spacingAndGlyphs">3</text>
<text x="182.70" y="151.16" font-size="9.3" text-anchor="end" fill="#4a4a4a" textLength="4.1" lengthAdjust="spacingAndGlyphs">4</text>
<text x="247.50" y="151.16" font-size="9.3" text-anchor="end" fill="#4a4a4a" textLength="4.1" lengthAdjust="spacingAndGlyphs">5</text>
<text x="312.70" y="151.16" font-size="9.3" text-anchor="end" fill="#4a4a4a" textLength="4.1" lengthAdjust="spacingAndGlyphs">6</text>
<text x="377.50" y="151.16" font-size="9.3" text-anchor="end" fill="#4a4a4a" textLength="4.1" lengthAdjust="spacingAndGlyphs">7</text>
<text x="117.70" y="174.76" font-size="9.3" text-anchor="end" fill="#4a4a4a" textLength="7.5" lengthAdjust="spacingAndGlyphs">10</text>
<text x="182.70" y="174.76" font-size="9.3" text-anchor="end" fill="#4a4a4a" textLength="6.8" lengthAdjust="spacingAndGlyphs">11</text>
<text x="247.50" y="174.76" font-size="9.3" text-anchor="end" fill="#4a4a4a" textLength="7.5" lengthAdjust="spacingAndGlyphs">12</text>
<text x="312.70" y="174.76" font-size="9.3" text-anchor="end" fill="#4a4a4a" textLength="7.5" lengthAdjust="spacingAndGlyphs">13</text>
<text x="377.50" y="174.76" font-size="9.3" text-anchor="end" fill="#4a4a4a" textLength="7.5" lengthAdjust="spacingAndGlyphs">14</text>
<text x="117.70" y="198.70" font-size="9.3" text-anchor="end" fill="#4a4a4a" textLength="7.5" lengthAdjust="spacingAndGlyphs">17</text>
<text x="182.70" y="198.70" font-size="9.3" text-anchor="end" fill="#4a4a4a" textLength="7.5" lengthAdjust="spacingAndGlyphs">18</text>
<text x="247.50" y="198.70" font-size="9.3" text-anchor="end" fill="#4a4a4a" textLength="7.5" lengthAdjust="spacingAndGlyphs">19</text>
<text x="312.70" y="198.70" font-size="9.3" text-anchor="end" fill="#4a4a4a" textLength="8.2" lengthAdjust="spacingAndGlyphs">20</text>
<text x="377.50" y="198.70" font-size="9.3" text-anchor="end" fill="#4a4a4a" textLength="7.5" lengthAdjust="spacingAndGlyphs">21</text>
<text x="117.70" y="222.66" font-size="9.3" text-anchor="end" fill="#4a4a4a" textLength="8.2" lengthAdjust="spacingAndGlyphs">24</text>
<text x="182.70" y="222.66" font-size="9.3" text-anchor="end" fill="#4a4a4a" textLength="8.2" lengthAdjust="spacingAndGlyphs">25</text>
<text x="247.50" y="222.66" font-size="9.3" text-anchor="end" fill="#4a4a4a" textLength="8.2" lengthAdjust="spacingAndGlyphs">26</text>
<text x="312.70" y="222.66" font-size="9.3" text-anchor="end" fill="#4a4a4a" textLength="8.2" lengthAdjust="spacingAndGlyphs">27</text>
<text x="377.50" y="222.66" font-size="9.3" text-anchor="end" fill="#4a4a4a" textLength="8.2" lengthAdjust="spacingAndGlyphs">28</text>
<text x="218.40" y="233.70" font-size="8.0" font-weight="bold" text-anchor="middle" fill="#1a1a30" textLength="122.5" lengthAdjust="spacingAndGlyphs">NEW TEACHER ORIENTATION</text>
<text x="117.70" y="246.40" font-size="9.3" text-anchor="end" fill="#4a4a4a" textLength="7.5" lengthAdjust="spacingAndGlyphs">31</text>
<text x="89.00" y="257.50" font-size="8.0" font-weight="bold" text-anchor="middle" fill="#1a1a30" textLength="27.4" lengthAdjust="spacingAndGlyphs">N-T-O</text>
<text transform="translate(43.2,201.55) rotate(-90)" font-size="9.8" font-weight="bold" text-anchor="middle" textLength="18.1" lengthAdjust="spacingAndGlyphs">July</text>
<text x="88.50" y="280.10" font-size="8.4" font-weight="bold" text-anchor="middle" textLength="28.1" lengthAdjust="spacingAndGlyphs">Monday</text>
<text x="153.10" y="280.10" font-size="8.4" font-weight="bold" text-anchor="middle" textLength="30.8" lengthAdjust="spacingAndGlyphs">Tuesday</text>
<text x="218.00" y="280.10" font-size="8.4" font-weight="bold" text-anchor="middle" textLength="42.2" lengthAdjust="spacingAndGlyphs">Wednesday</text>
<text x="283.00" y="280.10" font-size="8.4" font-weight="bold" text-anchor="middle" textLength="33.7" lengthAdjust="spacingAndGlyphs">Thursday</text>
<text x="348.00" y="280.10" font-size="8.4" font-weight="bold" text-anchor="middle" textLength="23.8" lengthAdjust="spacingAndGlyphs">Friday</text>
<text x="182.70" y="293.78" font-size="9.3" text-anchor="end" fill="#4a4a4a" textLength="3.4" lengthAdjust="spacingAndGlyphs">1</text>
<text x="122.10" y="304.60" font-size="8.0" font-weight="bold" fill="#1a1a30" textLength="45.4" lengthAdjust="spacingAndGlyphs">Pre-Planning</text>
<text x="247.50" y="293.78" font-size="9.3" text-anchor="end" fill="#4a4a4a" textLength="4.1" lengthAdjust="spacingAndGlyphs">2</text>
<text x="187.10" y="304.60" font-size="8.0" font-weight="bold" fill="#1a1a30" textLength="45.4" lengthAdjust="spacingAndGlyphs">Pre-Planning</text>
<text x="312.70" y="293.78" font-size="9.3" text-anchor="end" fill="#4a4a4a" textLength="4.1" lengthAdjust="spacingAndGlyphs">3</text>
<text x="251.90" y="304.60" font-size="8.0" font-weight="bold" fill="#1a1a30" textLength="45.4" lengthAdjust="spacingAndGlyphs">Pre-Planning</text>
<text x="377.50" y="293.78" font-size="9.3" text-anchor="end" fill="#4a4a4a" textLength="4.1" lengthAdjust="spacingAndGlyphs">4</text>
<text x="317.10" y="304.60" font-size="8.0" font-weight="bold" fill="#1a1a30" textLength="45.4" lengthAdjust="spacingAndGlyphs">Pre-Planning</text>
<text x="117.70" y="316.60" font-size="9.3" text-anchor="end" fill="#4a4a4a" textLength="4.1" lengthAdjust="spacingAndGlyphs">7</text>
<text x="88.30" y="327.50" font-size="8.4" font-weight="bold" text-anchor="middle">1</text>
<text x="83.50" y="316.40" font-size="8.0" font-weight="bold" text-anchor="middle" fill="#1a1a30" textLength="35" lengthAdjust="spacingAndGlyphs">First Day</text>
<text x="182.70" y="316.60" font-size="9.3" text-anchor="end" fill="#4a4a4a" textLength="4.1" lengthAdjust="spacingAndGlyphs">8</text>
<text x="152.90" y="327.50" font-size="8.4" font-weight="bold" text-anchor="middle">2</text>
<text x="247.50" y="316.60" font-size="9.3" text-anchor="end" fill="#4a4a4a" textLength="4.1" lengthAdjust="spacingAndGlyphs">9</text>
<text x="217.80" y="327.50" font-size="8.4" font-weight="bold" text-anchor="middle">3</text>
<text x="312.70" y="316.60" font-size="9.3" text-anchor="end" fill="#4a4a4a" textLength="7.5" lengthAdjust="spacingAndGlyphs">10</text>
<text x="282.80" y="327.50" font-size="8.4" font-weight="bold" text-anchor="middle">4</text>
<text x="377.50" y="316.60" font-size="9.3" text-anchor="end" fill="#4a4a4a" textLength="6.8" lengthAdjust="spacingAndGlyphs">11</text>
<text x="347.80" y="327.50" font-size="8.4" font-weight="bold" text-anchor="middle">5</text>
<text x="117.70" y="340.08" font-size="9.3" text-anchor="end" fill="#4a4a4a" textLength="7.5" lengthAdjust="spacingAndGlyphs">14</text>
<text x="88.30" y="351.70" font-size="8.4" font-weight="bold" text-anchor="middle">6</text>
<text x="182.70" y="340.08" font-size="9.3" text-anchor="end" fill="#4a4a4a" textLength="7.5" lengthAdjust="spacingAndGlyphs">15</text>
<text x="152.90" y="351.70" font-size="8.4" font-weight="bold" text-anchor="middle">7</text>
<text x="247.50" y="340.08" font-size="9.3" text-anchor="end" fill="#4a4a4a" textLength="7.5" lengthAdjust="spacingAndGlyphs">16</text>
<text x="217.80" y="351.70" font-size="8.4" font-weight="bold" text-anchor="middle">8</text>
<text x="312.70" y="340.08" font-size="9.3" text-anchor="end" fill="#4a4a4a" textLength="7.5" lengthAdjust="spacingAndGlyphs">17</text>
<text x="282.80" y="351.70" font-size="8.4" font-weight="bold" text-anchor="middle">9</text>
<text x="377.50" y="340.08" font-size="9.3" text-anchor="end" fill="#4a4a4a" textLength="7.5" lengthAdjust="spacingAndGlyphs">18</text>
<text x="347.80" y="351.70" font-size="8.4" font-weight="bold" text-anchor="middle">10</text>
<text x="117.70" y="364.32" font-size="9.3" text-anchor="end" fill="#4a4a4a" textLength="7.5" lengthAdjust="spacingAndGlyphs">21</text>
<text x="88.30" y="376.00" font-size="8.4" font-weight="bold" text-anchor="middle">11</text>
<text x="182.70" y="364.32" font-size="9.3" text-anchor="end" fill="#4a4a4a" textLength="8.2" lengthAdjust="spacingAndGlyphs">22</text>
<text x="152.90" y="376.00" font-size="8.4" font-weight="bold" text-anchor="middle">12</text>
<text x="247.50" y="364.32" font-size="9.3" text-anchor="end" fill="#4a4a4a" textLength="8.2" lengthAdjust="spacingAndGlyphs">23</text>
<text x="218.00" y="375.30" font-size="8.0" font-weight="bold" text-anchor="middle" fill="#1a1a30" textLength="13.6" lengthAdjust="spacingAndGlyphs">PLD</text>
<text x="312.70" y="364.32" font-size="9.3" text-anchor="end" fill="#4a4a4a" textLength="8.2" lengthAdjust="spacingAndGlyphs">24</text>
<text x="282.80" y="376.00" font-size="8.4" font-weight="bold" text-anchor="middle">14</text>
<text x="377.50" y="364.32" font-size="9.3" text-anchor="end" fill="#4a4a4a" textLength="8.2" lengthAdjust="spacingAndGlyphs">25</text>
<text x="347.80" y="376.00" font-size="8.4" font-weight="bold" text-anchor="middle">15</text>
<text x="117.70" y="388.38" font-size="9.3" text-anchor="end" fill="#4a4a4a" textLength="8.2" lengthAdjust="spacingAndGlyphs">28</text>
<text x="88.30" y="399.70" font-size="8.4" font-weight="bold" text-anchor="middle">16</text>
<text x="182.70" y="388.38" font-size="9.3" text-anchor="end" fill="#4a4a4a" textLength="8.2" lengthAdjust="spacingAndGlyphs">29</text>
<text x="152.90" y="399.70" font-size="8.4" font-weight="bold" text-anchor="middle">17</text>
<text x="247.50" y="388.38" font-size="9.3" text-anchor="end" fill="#4a4a4a" textLength="8.2" lengthAdjust="spacingAndGlyphs">30</text>
<text x="217.80" y="399.70" font-size="8.4" font-weight="bold" text-anchor="middle">18</text>
<text x="312.70" y="388.38" font-size="9.3" text-anchor="end" fill="#4a4a4a" textLength="7.5" lengthAdjust="spacingAndGlyphs">31</text>
<text x="282.80" y="399.70" font-size="8.4" font-weight="bold" text-anchor="middle">19</text>
<text transform="translate(43.2,344.05) rotate(-90)" font-size="9.8" font-weight="bold" text-anchor="middle" textLength="27.3" lengthAdjust="spacingAndGlyphs">August</text>
<text x="88.50" y="422.40" font-size="8.4" font-weight="bold" text-anchor="middle" textLength="28.1" lengthAdjust="spacingAndGlyphs">Monday</text>
<text x="153.10" y="422.40" font-size="8.4" font-weight="bold" text-anchor="middle" textLength="30.8" lengthAdjust="spacingAndGlyphs">Tuesday</text>
<text x="218.00" y="422.40" font-size="8.4" font-weight="bold" text-anchor="middle" textLength="42.2" lengthAdjust="spacingAndGlyphs">Wednesday</text>
<text x="283.00" y="422.40" font-size="8.4" font-weight="bold" text-anchor="middle" textLength="33.7" lengthAdjust="spacingAndGlyphs">Thursday</text>
<text x="348.00" y="422.40" font-size="8.4" font-weight="bold" text-anchor="middle" textLength="23.8" lengthAdjust="spacingAndGlyphs">Friday</text>
<text x="377.50" y="436.08" font-size="9.3" text-anchor="end" fill="#4a4a4a" textLength="3.4" lengthAdjust="spacingAndGlyphs">1</text>
<text x="347.80" y="447.70" font-size="8.4" font-weight="bold" text-anchor="middle">20</text>
<text x="117.70" y="460.04" font-size="9.3" text-anchor="end" fill="#4a4a4a" textLength="4.1" lengthAdjust="spacingAndGlyphs">4</text>
<text x="58.30" y="471.60" font-size="8.0" font-weight="bold" fill="#1a1a30" textLength="38" lengthAdjust="spacingAndGlyphs">Labor Day</text>
<text x="182.70" y="460.04" font-size="9.3" text-anchor="end" fill="#4a4a4a" textLength="4.1" lengthAdjust="spacingAndGlyphs">5</text>
<text x="152.90" y="471.30" font-size="8.4" font-weight="bold" text-anchor="middle">21</text>
<text x="247.50" y="460.04" font-size="9.3" text-anchor="end" fill="#4a4a4a" textLength="4.1" lengthAdjust="spacingAndGlyphs">6</text>
<text x="217.80" y="471.30" font-size="8.4" font-weight="bold" text-anchor="middle">22</text>
<text x="312.70" y="460.04" font-size="9.3" text-anchor="end" fill="#4a4a4a" textLength="4.1" lengthAdjust="spacingAndGlyphs">7</text>
<text x="282.80" y="471.30" font-size="8.4" font-weight="bold" text-anchor="middle">23</text>
<text x="377.50" y="460.04" font-size="9.3" text-anchor="end" fill="#4a4a4a" textLength="4.1" lengthAdjust="spacingAndGlyphs">8</text>
<text x="347.80" y="471.30" font-size="8.4" font-weight="bold" text-anchor="middle">24</text>
<text x="117.70" y="483.92" font-size="9.3" text-anchor="end" fill="#4a4a4a" textLength="6.8" lengthAdjust="spacingAndGlyphs">11</text>
<text x="88.30" y="495.60" font-size="8.4" font-weight="bold" text-anchor="middle">25</text>
<text x="182.70" y="483.92" font-size="9.3" text-anchor="end" fill="#4a4a4a" textLength="7.5" lengthAdjust="spacingAndGlyphs">12</text>
<text x="152.90" y="495.60" font-size="8.4" font-weight="bold" text-anchor="middle">26</text>
<text x="247.50" y="483.92" font-size="9.3" text-anchor="end" fill="#4a4a4a" textLength="7.5" lengthAdjust="spacingAndGlyphs">13</text>
<text x="217.80" y="495.60" font-size="8.4" font-weight="bold" text-anchor="middle">27</text>
<text x="312.70" y="483.92" font-size="9.3" text-anchor="end" fill="#4a4a4a" textLength="7.5" lengthAdjust="spacingAndGlyphs">14</text>
<text x="282.80" y="495.60" font-size="8.4" font-weight="bold" text-anchor="middle">28</text>
<text x="377.50" y="483.92" font-size="9.3" text-anchor="end" fill="#4a4a4a" textLength="7.5" lengthAdjust="spacingAndGlyphs">15</text>
<text x="347.80" y="495.60" font-size="8.4" font-weight="bold" text-anchor="middle">29</text>
<text x="117.70" y="508.02" font-size="9.3" text-anchor="end" fill="#4a4a4a" textLength="7.5" lengthAdjust="spacingAndGlyphs">18</text>
<text x="88.30" y="519.40" font-size="8.4" font-weight="bold" text-anchor="middle">30</text>
<text x="182.70" y="508.02" font-size="9.3" text-anchor="end" fill="#4a4a4a" textLength="7.5" lengthAdjust="spacingAndGlyphs">19</text>
<text x="152.90" y="519.40" font-size="8.4" font-weight="bold" text-anchor="middle">31</text>
<text x="247.50" y="508.02" font-size="9.3" text-anchor="end" fill="#4a4a4a" textLength="8.2" lengthAdjust="spacingAndGlyphs">20</text>
<text x="218.00" y="519.20" font-size="8.0" font-weight="bold" text-anchor="middle" fill="#1a1a30" textLength="13.6" lengthAdjust="spacingAndGlyphs">PLD</text>
<text x="312.70" y="508.02" font-size="9.3" text-anchor="end" fill="#4a4a4a" textLength="7.5" lengthAdjust="spacingAndGlyphs">21</text>
<text x="282.80" y="519.40" font-size="8.4" font-weight="bold" text-anchor="middle">33</text>
<text x="377.50" y="508.02" font-size="9.3" text-anchor="end" fill="#4a4a4a" textLength="8.2" lengthAdjust="spacingAndGlyphs">22</text>
<text x="347.80" y="519.40" font-size="8.4" font-weight="bold" text-anchor="middle">34</text>
<text x="117.70" y="531.94" font-size="9.3" text-anchor="end" fill="#4a4a4a" textLength="8.2" lengthAdjust="spacingAndGlyphs">25</text>
<text x="88.30" y="543.50" font-size="8.4" font-weight="bold" text-anchor="middle">35</text>
<text x="182.70" y="531.94" font-size="9.3" text-anchor="end" fill="#4a4a4a" textLength="8.2" lengthAdjust="spacingAndGlyphs">26</text>
<text x="152.90" y="543.50" font-size="8.4" font-weight="bold" text-anchor="middle">36</text>
<text x="247.50" y="531.94" font-size="9.3" text-anchor="end" fill="#4a4a4a" textLength="8.2" lengthAdjust="spacingAndGlyphs">27</text>
<text x="217.80" y="543.50" font-size="8.4" font-weight="bold" text-anchor="middle">37</text>
<text x="312.70" y="531.94" font-size="9.3" text-anchor="end" fill="#4a4a4a" textLength="8.2" lengthAdjust="spacingAndGlyphs">28</text>
<text x="282.80" y="543.50" font-size="8.4" font-weight="bold" text-anchor="middle">38</text>
<text x="377.50" y="531.94" font-size="9.3" text-anchor="end" fill="#4a4a4a" textLength="8.2" lengthAdjust="spacingAndGlyphs">29</text>
<text x="347.80" y="543.50" font-size="8.4" font-weight="bold" text-anchor="middle">39</text>
<text transform="translate(43.2,486.80) rotate(-90)" font-size="9.8" font-weight="bold" text-anchor="middle" textLength="46.2" lengthAdjust="spacingAndGlyphs">September</text>
<text x="88.50" y="565.70" font-size="8.4" font-weight="bold" text-anchor="middle" textLength="28.1" lengthAdjust="spacingAndGlyphs">Monday</text>
<text x="153.10" y="565.70" font-size="8.4" font-weight="bold" text-anchor="middle" textLength="30.8" lengthAdjust="spacingAndGlyphs">Tuesday</text>
<text x="218.00" y="565.70" font-size="8.4" font-weight="bold" text-anchor="middle" textLength="42.2" lengthAdjust="spacingAndGlyphs">Wednesday</text>
<text x="283.00" y="565.70" font-size="8.4" font-weight="bold" text-anchor="middle" textLength="33.7" lengthAdjust="spacingAndGlyphs">Thursday</text>
<text x="348.00" y="565.70" font-size="8.4" font-weight="bold" text-anchor="middle" textLength="23.8" lengthAdjust="spacingAndGlyphs">Friday</text>
<text x="117.70" y="579.52" font-size="9.3" font-weight="bold" text-anchor="end" textLength="4.1" lengthAdjust="spacingAndGlyphs">2</text>
<text x="88.30" y="590.90" font-size="8.4" font-weight="bold" text-anchor="middle">40</text>
<text x="182.70" y="579.52" font-size="9.3" text-anchor="end" fill="#4a4a4a" textLength="4.1" lengthAdjust="spacingAndGlyphs">3</text>
<text x="152.90" y="590.90" font-size="8.4" font-weight="bold" text-anchor="middle">41</text>
<text x="247.50" y="579.52" font-size="9.3" text-anchor="end" fill="#4a4a4a" textLength="4.1" lengthAdjust="spacingAndGlyphs">4</text>
<text x="217.80" y="590.90" font-size="8.4" font-weight="bold" text-anchor="middle">42</text>
<text x="312.70" y="579.52" font-size="9.3" text-anchor="end" fill="#4a4a4a" textLength="4.1" lengthAdjust="spacingAndGlyphs">5</text>
<text x="282.80" y="590.90" font-size="8.4" font-weight="bold" text-anchor="middle">43</text>
<text x="377.50" y="579.52" font-size="9.3" text-anchor="end" fill="#4a4a4a" textLength="4.1" lengthAdjust="spacingAndGlyphs">6</text>
<text x="348.00" y="590.70" font-size="8.0" font-weight="bold" text-anchor="middle" fill="#1a1a30" textLength="13.6" lengthAdjust="spacingAndGlyphs">PLD</text>
<text x="117.70" y="603.32" font-size="9.3" text-anchor="end" fill="#4a4a4a" textLength="4.1" lengthAdjust="spacingAndGlyphs">9</text>
<text x="88.70" y="614.50" font-size="8.0" font-weight="bold" text-anchor="middle" fill="#1a1a30" textLength="25.5" lengthAdjust="spacingAndGlyphs">BREAK</text>
<text x="182.70" y="603.32" font-size="9.3" text-anchor="end" fill="#4a4a4a" textLength="7.5" lengthAdjust="spacingAndGlyphs">10</text>
<text x="120.60" y="603.00" font-size="8.0" font-weight="bold" fill="#1a1a30" textLength="20" lengthAdjust="spacingAndGlyphs">Staff</text>
<text x="122.70" y="614.50" font-size="8.0" font-weight="bold" fill="#1a1a30" textLength="45.2" lengthAdjust="spacingAndGlyphs">Development</text>
<text x="247.50" y="603.32" font-size="9.3" text-anchor="end" fill="#4a4a4a" textLength="6.8" lengthAdjust="spacingAndGlyphs">11</text>
<text x="217.80" y="614.70" font-size="8.4" font-weight="bold" text-anchor="middle">45</text>
<text x="312.70" y="603.32" font-size="9.3" text-anchor="end" fill="#4a4a4a" textLength="7.5" lengthAdjust="spacingAndGlyphs">12</text>
<text x="282.80" y="614.70" font-size="8.4" font-weight="bold" text-anchor="middle">46</text>
<text x="377.50" y="603.32" font-size="9.3" text-anchor="end" fill="#4a4a4a" textLength="7.5" lengthAdjust="spacingAndGlyphs">13</text>
<text x="347.80" y="614.70" font-size="8.4" font-weight="bold" text-anchor="middle">47</text>
<text x="117.70" y="627.24" font-size="9.3" text-anchor="end" fill="#4a4a4a" textLength="7.5" lengthAdjust="spacingAndGlyphs">16</text>
<text x="88.30" y="638.80" font-size="8.4" font-weight="bold" text-anchor="middle">48</text>
<text x="182.70" y="627.24" font-size="9.3" text-anchor="end" fill="#4a4a4a" textLength="7.5" lengthAdjust="spacingAndGlyphs">17</text>
<text x="152.90" y="638.80" font-size="8.4" font-weight="bold" text-anchor="middle">49</text>
<text x="247.50" y="627.24" font-size="9.3" text-anchor="end" fill="#4a4a4a" textLength="7.5" lengthAdjust="spacingAndGlyphs">18</text>
<text x="217.80" y="638.80" font-size="8.4" font-weight="bold" text-anchor="middle">50</text>
<text x="312.70" y="627.24" font-size="9.3" text-anchor="end" fill="#4a4a4a" textLength="7.5" lengthAdjust="spacingAndGlyphs">19</text>
<text x="282.80" y="638.80" font-size="8.4" font-weight="bold" text-anchor="middle">51</text>
<text x="377.50" y="627.24" font-size="9.3" text-anchor="end" fill="#4a4a4a" textLength="8.2" lengthAdjust="spacingAndGlyphs">20</text>
<text x="347.80" y="638.80" font-size="8.4" font-weight="bold" text-anchor="middle">52</text>
<text x="117.70" y="651.26" font-size="9.3" text-anchor="end" fill="#4a4a4a" textLength="8.2" lengthAdjust="spacingAndGlyphs">23</text>
<text x="88.30" y="662.70" font-size="8.4" font-weight="bold" text-anchor="middle">53</text>
<text x="182.70" y="651.26" font-size="9.3" text-anchor="end" fill="#4a4a4a" textLength="8.2" lengthAdjust="spacingAndGlyphs">24</text>
<text x="152.90" y="662.70" font-size="8.4" font-weight="bold" text-anchor="middle">54</text>
<text x="247.50" y="651.26" font-size="9.3" text-anchor="end" fill="#4a4a4a" textLength="8.2" lengthAdjust="spacingAndGlyphs">25</text>
<text x="217.80" y="662.70" font-size="8.4" font-weight="bold" text-anchor="middle">55</text>
<text x="312.70" y="651.26" font-size="9.3" text-anchor="end" fill="#4a4a4a" textLength="8.2" lengthAdjust="spacingAndGlyphs">26</text>
<text x="282.80" y="662.70" font-size="8.4" font-weight="bold" text-anchor="middle">56</text>
<text x="377.50" y="651.26" font-size="9.3" text-anchor="end" fill="#4a4a4a" textLength="8.2" lengthAdjust="spacingAndGlyphs">27</text>
<text x="347.80" y="662.70" font-size="8.4" font-weight="bold" text-anchor="middle">57</text>
<text x="117.70" y="675.16" font-size="9.3" text-anchor="end" fill="#4a4a4a" textLength="8.2" lengthAdjust="spacingAndGlyphs">30</text>
<text x="88.30" y="686.60" font-size="8.4" font-weight="bold" text-anchor="middle">58</text>
<text x="182.70" y="675.16" font-size="9.3" text-anchor="end" fill="#4a4a4a" textLength="7.5" lengthAdjust="spacingAndGlyphs">31</text>
<text x="153.10" y="686.30" font-size="8.0" font-weight="bold" text-anchor="middle" fill="#1a1a30" textLength="13.6" lengthAdjust="spacingAndGlyphs">PLD</text>
<text transform="translate(43.2,630.15) rotate(-90)" font-size="9.8" font-weight="bold" text-anchor="middle" textLength="35.5" lengthAdjust="spacingAndGlyphs">October</text>
<text x="88.50" y="709.10" font-size="8.4" font-weight="bold" text-anchor="middle" textLength="28.1" lengthAdjust="spacingAndGlyphs">Monday</text>
<text x="153.10" y="709.10" font-size="8.4" font-weight="bold" text-anchor="middle" textLength="30.8" lengthAdjust="spacingAndGlyphs">Tuesday</text>
<text x="218.00" y="709.10" font-size="8.4" font-weight="bold" text-anchor="middle" textLength="42.2" lengthAdjust="spacingAndGlyphs">Wednesday</text>
<text x="283.00" y="709.10" font-size="8.4" font-weight="bold" text-anchor="middle" textLength="33.7" lengthAdjust="spacingAndGlyphs">Thursday</text>
<text x="348.00" y="709.10" font-size="8.4" font-weight="bold" text-anchor="middle" textLength="23.8" lengthAdjust="spacingAndGlyphs">Friday</text>
<text x="247.50" y="722.92" font-size="9.3" text-anchor="end" fill="#4a4a4a" textLength="3.4" lengthAdjust="spacingAndGlyphs">1</text>
<text x="217.80" y="734.30" font-size="8.4" font-weight="bold" text-anchor="middle">60</text>
<text x="312.70" y="722.92" font-size="9.3" text-anchor="end" fill="#4a4a4a" textLength="4.1" lengthAdjust="spacingAndGlyphs">2</text>
<text x="282.80" y="734.30" font-size="8.4" font-weight="bold" text-anchor="middle">61</text>
<text x="377.50" y="722.92" font-size="9.3" text-anchor="end" fill="#4a4a4a" textLength="4.1" lengthAdjust="spacingAndGlyphs">3</text>
<text x="347.80" y="734.30" font-size="8.4" font-weight="bold" text-anchor="middle">62</text>
<text x="117.70" y="746.72" font-size="9.3" text-anchor="end" fill="#4a4a4a" textLength="4.1" lengthAdjust="spacingAndGlyphs">6</text>
<text x="88.30" y="758.10" font-size="8.4" font-weight="bold" text-anchor="middle">63</text>
<text x="182.70" y="746.72" font-size="9.3" text-anchor="end" fill="#4a4a4a" textLength="4.1" lengthAdjust="spacingAndGlyphs">7</text>
<text x="152.90" y="758.10" font-size="8.4" font-weight="bold" text-anchor="middle">64</text>
<text x="247.50" y="746.72" font-size="9.3" text-anchor="end" fill="#4a4a4a" textLength="4.1" lengthAdjust="spacingAndGlyphs">8</text>
<text x="217.80" y="758.10" font-size="8.4" font-weight="bold" text-anchor="middle">65</text>
<text x="312.70" y="746.72" font-size="9.3" text-anchor="end" fill="#4a4a4a" textLength="4.1" lengthAdjust="spacingAndGlyphs">9</text>
<text x="282.80" y="758.10" font-size="8.4" font-weight="bold" text-anchor="middle">66</text>
<text x="377.50" y="746.72" font-size="9.3" text-anchor="end" fill="#4a4a4a" textLength="7.5" lengthAdjust="spacingAndGlyphs">10</text>
<text x="347.80" y="758.10" font-size="8.4" font-weight="bold" text-anchor="middle">67</text>
<text x="117.70" y="770.56" font-size="9.3" text-anchor="end" fill="#4a4a4a" textLength="7.5" lengthAdjust="spacingAndGlyphs">13</text>
<text x="88.30" y="782.00" font-size="8.4" font-weight="bold" text-anchor="middle">68</text>
<text x="182.70" y="770.56" font-size="9.3" text-anchor="end" fill="#4a4a4a" textLength="7.5" lengthAdjust="spacingAndGlyphs">14</text>
<text x="152.90" y="782.00" font-size="8.4" font-weight="bold" text-anchor="middle">69</text>
<text x="247.50" y="770.56" font-size="9.3" text-anchor="end" fill="#4a4a4a" textLength="7.5" lengthAdjust="spacingAndGlyphs">15</text>
<text x="217.80" y="782.00" font-size="8.4" font-weight="bold" text-anchor="middle">70</text>
<text x="312.70" y="770.56" font-size="9.3" text-anchor="end" fill="#4a4a4a" textLength="7.5" lengthAdjust="spacingAndGlyphs">16</text>
<text x="282.80" y="782.00" font-size="8.4" font-weight="bold" text-anchor="middle">71</text>
<text x="377.50" y="770.56" font-size="9.3" text-anchor="end" fill="#4a4a4a" textLength="7.5" lengthAdjust="spacingAndGlyphs">17</text>
<text x="347.80" y="782.00" font-size="8.4" font-weight="bold" text-anchor="middle">72</text>
<text x="117.70" y="793.46" font-size="9.3" text-anchor="end" fill="#4a4a4a" textLength="8.2" lengthAdjust="spacingAndGlyphs">20</text>
<text x="182.70" y="793.46" font-size="9.3" text-anchor="end" fill="#4a4a4a" textLength="7.5" lengthAdjust="spacingAndGlyphs">21</text>
<text x="247.50" y="793.46" font-size="9.3" text-anchor="end" fill="#4a4a4a" textLength="8.2" lengthAdjust="spacingAndGlyphs">22</text>
<text x="312.70" y="793.46" font-size="9.3" text-anchor="end" fill="#4a4a4a" textLength="8.2" lengthAdjust="spacingAndGlyphs">23</text>
<text x="377.50" y="793.46" font-size="9.3" text-anchor="end" fill="#4a4a4a" textLength="8.2" lengthAdjust="spacingAndGlyphs">24</text>
<text x="218.60" y="802.50" font-size="8.0" font-weight="bold" text-anchor="middle" fill="#1a1a30" textLength="64.6" lengthAdjust="spacingAndGlyphs">THANKSGIVING</text>
<text x="117.70" y="815.02" font-size="9.3" text-anchor="end" fill="#4a4a4a" textLength="8.2" lengthAdjust="spacingAndGlyphs">27</text>
<text x="88.30" y="825.20" font-size="8.4" font-weight="bold" text-anchor="middle">73</text>
<text x="182.70" y="815.02" font-size="9.3" text-anchor="end" fill="#4a4a4a" textLength="8.2" lengthAdjust="spacingAndGlyphs">28</text>
<text x="152.90" y="825.20" font-size="8.4" font-weight="bold" text-anchor="middle">74</text>
<text x="247.50" y="815.02" font-size="9.3" text-anchor="end" fill="#4a4a4a" textLength="8.2" lengthAdjust="spacingAndGlyphs">29</text>
<text x="217.80" y="825.20" font-size="8.4" font-weight="bold" text-anchor="middle">75</text>
<text x="312.70" y="815.02" font-size="9.3" text-anchor="end" fill="#4a4a4a" textLength="8.2" lengthAdjust="spacingAndGlyphs">30</text>
<text x="282.80" y="825.20" font-size="8.4" font-weight="bold" text-anchor="middle">76</text>
<text transform="translate(43.2,771.15) rotate(-90)" font-size="9.8" font-weight="bold" text-anchor="middle" textLength="42.3" lengthAdjust="spacingAndGlyphs">November</text>
<text x="88.50" y="847.40" font-size="8.4" font-weight="bold" text-anchor="middle" textLength="28.1" lengthAdjust="spacingAndGlyphs">Monday</text>
<text x="153.10" y="847.40" font-size="8.4" font-weight="bold" text-anchor="middle" textLength="30.8" lengthAdjust="spacingAndGlyphs">Tuesday</text>
<text x="218.00" y="847.40" font-size="8.4" font-weight="bold" text-anchor="middle" textLength="42.2" lengthAdjust="spacingAndGlyphs">Wednesday</text>
<text x="283.00" y="847.40" font-size="8.4" font-weight="bold" text-anchor="middle" textLength="33.7" lengthAdjust="spacingAndGlyphs">Thursday</text>
<text x="348.00" y="847.40" font-size="8.4" font-weight="bold" text-anchor="middle" textLength="23.8" lengthAdjust="spacingAndGlyphs">Friday</text>
<text x="377.50" y="861.02" font-size="9.3" text-anchor="end" fill="#4a4a4a" textLength="3.4" lengthAdjust="spacingAndGlyphs">1</text>
<text x="347.80" y="872.40" font-size="8.4" font-weight="bold" text-anchor="middle">77</text>
<text x="117.70" y="884.94" font-size="9.3" text-anchor="end" fill="#4a4a4a" textLength="4.1" lengthAdjust="spacingAndGlyphs">4</text>
<text x="88.30" y="896.50" font-size="8.4" font-weight="bold" text-anchor="middle">78</text>
<text x="182.70" y="884.94" font-size="9.3" text-anchor="end" fill="#4a4a4a" textLength="4.1" lengthAdjust="spacingAndGlyphs">5</text>
<text x="152.90" y="896.50" font-size="8.4" font-weight="bold" text-anchor="middle">79</text>
<text x="247.50" y="884.94" font-size="9.3" text-anchor="end" fill="#4a4a4a" textLength="4.1" lengthAdjust="spacingAndGlyphs">6</text>
<text x="217.80" y="896.50" font-size="8.4" font-weight="bold" text-anchor="middle">80</text>
<text x="312.70" y="884.94" font-size="9.3" text-anchor="end" fill="#4a4a4a" textLength="4.1" lengthAdjust="spacingAndGlyphs">7</text>
<text x="282.80" y="896.50" font-size="8.4" font-weight="bold" text-anchor="middle">81</text>
<text x="377.50" y="884.94" font-size="9.3" text-anchor="end" fill="#4a4a4a" textLength="4.1" lengthAdjust="spacingAndGlyphs">8</text>
<text x="347.80" y="896.50" font-size="8.4" font-weight="bold" text-anchor="middle">82</text>
<text x="117.70" y="909.12" font-size="9.3" text-anchor="end" fill="#4a4a4a" textLength="6.8" lengthAdjust="spacingAndGlyphs">11</text>
<text x="88.30" y="920.80" font-size="8.4" font-weight="bold" text-anchor="middle">83</text>
<text x="182.70" y="909.12" font-size="9.3" text-anchor="end" fill="#4a4a4a" textLength="7.5" lengthAdjust="spacingAndGlyphs">12</text>
<text x="152.90" y="920.80" font-size="8.4" font-weight="bold" text-anchor="middle">84</text>
<text x="247.50" y="909.12" font-size="9.3" text-anchor="end" fill="#4a4a4a" textLength="7.5" lengthAdjust="spacingAndGlyphs">13</text>
<text x="217.80" y="920.80" font-size="8.4" font-weight="bold" text-anchor="middle">85</text>
<text x="312.70" y="909.12" font-size="9.3" text-anchor="end" fill="#4a4a4a" textLength="7.5" lengthAdjust="spacingAndGlyphs">14</text>
<text x="282.80" y="920.80" font-size="8.4" font-weight="bold" text-anchor="middle">86</text>
<text x="377.50" y="909.12" font-size="9.3" text-anchor="end" fill="#4a4a4a" textLength="7.5" lengthAdjust="spacingAndGlyphs">15</text>
<text x="347.80" y="920.80" font-size="8.4" font-weight="bold" text-anchor="middle">87</text>
<text x="117.70" y="933.26" font-size="9.3" text-anchor="end" fill="#4a4a4a" textLength="7.5" lengthAdjust="spacingAndGlyphs">18</text>
<text x="88.30" y="944.70" font-size="8.4" font-weight="bold" text-anchor="middle">88</text>
<text x="182.70" y="933.26" font-size="9.3" text-anchor="end" fill="#4a4a4a" textLength="7.5" lengthAdjust="spacingAndGlyphs">19</text>
<text x="152.90" y="944.70" font-size="8.4" font-weight="bold" text-anchor="middle">89</text>
<text x="247.50" y="933.26" font-size="9.3" text-anchor="end" fill="#4a4a4a" textLength="8.2" lengthAdjust="spacingAndGlyphs">20</text>
<text x="217.80" y="944.70" font-size="8.4" font-weight="bold" text-anchor="middle">90</text>
<text x="312.70" y="933.26" font-size="9.3" text-anchor="end" fill="#4a4a4a" textLength="7.5" lengthAdjust="spacingAndGlyphs">21</text>
<text x="282.80" y="944.70" font-size="8.4" font-weight="bold" text-anchor="middle">91</text>
<text x="377.50" y="933.26" font-size="9.3" text-anchor="end" fill="#4a4a4a" textLength="8.2" lengthAdjust="spacingAndGlyphs">22</text>
<text x="347.80" y="944.70" font-size="8.4" font-weight="bold" text-anchor="middle">92</text>
<text x="117.70" y="957.16" font-size="9.3" text-anchor="end" fill="#4a4a4a" textLength="8.2" lengthAdjust="spacingAndGlyphs">25</text>
<text x="182.70" y="957.16" font-size="9.3" text-anchor="end" fill="#4a4a4a" textLength="8.2" lengthAdjust="spacingAndGlyphs">26</text>
<text x="247.50" y="957.16" font-size="9.3" text-anchor="end" fill="#4a4a4a" textLength="8.2" lengthAdjust="spacingAndGlyphs">27</text>
<text x="312.70" y="957.16" font-size="9.3" text-anchor="end" fill="#4a4a4a" textLength="8.2" lengthAdjust="spacingAndGlyphs">28</text>
<text x="377.50" y="957.16" font-size="9.3" text-anchor="end" fill="#4a4a4a" textLength="8.2" lengthAdjust="spacingAndGlyphs">29</text>
<text x="218.00" y="968.50" font-size="8.0" font-weight="bold" text-anchor="middle" fill="#1a1a30" textLength="71.1" lengthAdjust="spacingAndGlyphs">SEMESTER BREAK</text>
<text transform="translate(43.2,911.90) rotate(-90)" font-size="9.8" font-weight="bold" text-anchor="middle" textLength="42.8" lengthAdjust="spacingAndGlyphs">December</text>
<text x="433.15" y="138.70" font-size="8.4" font-weight="bold" text-anchor="middle" textLength="28.1" lengthAdjust="spacingAndGlyphs">Monday</text>
<text x="498.05" y="138.70" font-size="8.4" font-weight="bold" text-anchor="middle" textLength="30.8" lengthAdjust="spacingAndGlyphs">Tuesday</text>
<text x="562.95" y="138.70" font-size="8.4" font-weight="bold" text-anchor="middle" textLength="42.2" lengthAdjust="spacingAndGlyphs">Wednesday</text>
<text x="627.95" y="138.70" font-size="8.4" font-weight="bold" text-anchor="middle" textLength="33.7" lengthAdjust="spacingAndGlyphs">Thursday</text>
<text x="692.85" y="138.70" font-size="8.4" font-weight="bold" text-anchor="middle" textLength="23.8" lengthAdjust="spacingAndGlyphs">Friday</text>
<text x="462.60" y="151.16" font-size="9.3" text-anchor="end" fill="#4a4a4a" textLength="3.4" lengthAdjust="spacingAndGlyphs">1</text>
<text x="527.70" y="151.16" font-size="9.3" text-anchor="end" fill="#4a4a4a" textLength="4.1" lengthAdjust="spacingAndGlyphs">2</text>
<text x="592.40" y="151.16" font-size="9.3" text-anchor="end" fill="#4a4a4a" textLength="4.1" lengthAdjust="spacingAndGlyphs">3</text>
<text x="657.70" y="151.16" font-size="9.3" text-anchor="end" fill="#4a4a4a" textLength="4.1" lengthAdjust="spacingAndGlyphs">4</text>
<text x="722.20" y="151.16" font-size="9.3" text-anchor="end" fill="#4a4a4a" textLength="4.1" lengthAdjust="spacingAndGlyphs">5</text>
<text x="563.10" y="162.90" font-size="8.0" font-weight="bold" text-anchor="middle" fill="#1a1a30" textLength="71.4" lengthAdjust="spacingAndGlyphs">SEMESTER BREAK</text>
<text x="462.60" y="174.76" font-size="9.3" text-anchor="end" fill="#4a4a4a" textLength="4.1" lengthAdjust="spacingAndGlyphs">8</text>
<text x="403.90" y="174.80" font-size="8.0" font-weight="bold" fill="#1a1a30" textLength="19" lengthAdjust="spacingAndGlyphs">Staff</text>
<text x="403.10" y="186.30" font-size="8.0" font-weight="bold" fill="#1a1a30" textLength="45" lengthAdjust="spacingAndGlyphs">Development</text>
<text x="527.70" y="174.76" font-size="9.3" text-anchor="end" fill="#4a4a4a" textLength="4.1" lengthAdjust="spacingAndGlyphs">9</text>
<text x="497.85" y="186.20" font-size="8.4" font-weight="bold" text-anchor="middle">1</text>
<text x="592.40" y="174.76" font-size="9.3" text-anchor="end" fill="#4a4a4a" textLength="7.5" lengthAdjust="spacingAndGlyphs">10</text>
<text x="562.75" y="186.20" font-size="8.4" font-weight="bold" text-anchor="middle">2</text>
<text x="657.70" y="174.76" font-size="9.3" text-anchor="end" fill="#4a4a4a" textLength="6.8" lengthAdjust="spacingAndGlyphs">11</text>
<text x="627.75" y="186.20" font-size="8.4" font-weight="bold" text-anchor="middle">3</text>
<text x="722.20" y="174.76" font-size="9.3" text-anchor="end" fill="#4a4a4a" textLength="7.5" lengthAdjust="spacingAndGlyphs">12</text>
<text x="692.65" y="186.20" font-size="8.4" font-weight="bold" text-anchor="middle">4</text>
<text x="462.60" y="198.70" font-size="9.3" text-anchor="end" fill="#4a4a4a" textLength="7.5" lengthAdjust="spacingAndGlyphs">15</text>
<text x="402.50" y="210.20" font-size="8.0" font-weight="bold" fill="#1a1a30" textLength="45.2" lengthAdjust="spacingAndGlyphs">MLK's B'day</text>
<text x="527.70" y="198.70" font-size="9.3" text-anchor="end" fill="#4a4a4a" textLength="7.5" lengthAdjust="spacingAndGlyphs">16</text>
<text x="497.85" y="210.20" font-size="8.4" font-weight="bold" text-anchor="middle">5</text>
<text x="592.40" y="198.70" font-size="9.3" text-anchor="end" fill="#4a4a4a" textLength="7.5" lengthAdjust="spacingAndGlyphs">17</text>
<text x="562.75" y="210.20" font-size="8.4" font-weight="bold" text-anchor="middle">6</text>
<text x="657.70" y="198.70" font-size="9.3" text-anchor="end" fill="#4a4a4a" textLength="7.5" lengthAdjust="spacingAndGlyphs">18</text>
<text x="627.75" y="210.20" font-size="8.4" font-weight="bold" text-anchor="middle">7</text>
<text x="722.20" y="198.70" font-size="9.3" text-anchor="end" fill="#4a4a4a" textLength="7.5" lengthAdjust="spacingAndGlyphs">19</text>
<text x="692.65" y="210.20" font-size="8.4" font-weight="bold" text-anchor="middle">8</text>
<text x="462.60" y="222.66" font-size="9.3" text-anchor="end" fill="#4a4a4a" textLength="8.2" lengthAdjust="spacingAndGlyphs">22</text>
<text x="432.95" y="234.10" font-size="8.4" font-weight="bold" text-anchor="middle">9</text>
<text x="527.70" y="222.66" font-size="9.3" text-anchor="end" fill="#4a4a4a" textLength="8.2" lengthAdjust="spacingAndGlyphs">23</text>
<text x="497.85" y="234.10" font-size="8.4" font-weight="bold" text-anchor="middle">10</text>
<text x="592.40" y="222.66" font-size="9.3" text-anchor="end" fill="#4a4a4a" textLength="8.2" lengthAdjust="spacingAndGlyphs">24</text>
<text x="562.75" y="234.10" font-size="8.4" font-weight="bold" text-anchor="middle">11</text>
<text x="657.70" y="222.66" font-size="9.3" text-anchor="end" fill="#4a4a4a" textLength="8.2" lengthAdjust="spacingAndGlyphs">25</text>
<text x="627.75" y="234.10" font-size="8.4" font-weight="bold" text-anchor="middle">12</text>
<text x="722.20" y="222.66" font-size="9.3" text-anchor="end" fill="#4a4a4a" textLength="8.2" lengthAdjust="spacingAndGlyphs">26</text>
<text x="692.65" y="234.10" font-size="8.4" font-weight="bold" text-anchor="middle">13</text>
<text x="462.60" y="246.40" font-size="9.3" text-anchor="end" fill="#4a4a4a" textLength="8.2" lengthAdjust="spacingAndGlyphs">29</text>
<text x="432.95" y="257.60" font-size="8.4" font-weight="bold" text-anchor="middle">14</text>
<text x="527.70" y="246.40" font-size="9.3" text-anchor="end" fill="#4a4a4a" textLength="8.2" lengthAdjust="spacingAndGlyphs">30</text>
<text x="497.85" y="257.60" font-size="8.4" font-weight="bold" text-anchor="middle">15</text>
<text x="592.40" y="246.40" font-size="9.3" text-anchor="end" fill="#4a4a4a" textLength="7.5" lengthAdjust="spacingAndGlyphs">31</text>
<text x="562.75" y="257.60" font-size="8.4" font-weight="bold" text-anchor="middle">16</text>
<text transform="translate(735.3,201.55) rotate(90)" font-size="9.8" font-weight="bold" text-anchor="middle" textLength="33.4" lengthAdjust="spacingAndGlyphs">January</text>
<text x="433.15" y="280.10" font-size="8.4" font-weight="bold" text-anchor="middle" textLength="28.1" lengthAdjust="spacingAndGlyphs">Monday</text>
<text x="498.05" y="280.10" font-size="8.4" font-weight="bold" text-anchor="middle" textLength="30.8" lengthAdjust="spacingAndGlyphs">Tuesday</text>
<text x="562.95" y="280.10" font-size="8.4" font-weight="bold" text-anchor="middle" textLength="42.2" lengthAdjust="spacingAndGlyphs">Wednesday</text>
<text x="627.95" y="280.10" font-size="8.4" font-weight="bold" text-anchor="middle" textLength="33.7" lengthAdjust="spacingAndGlyphs">Thursday</text>
<text x="692.85" y="280.10" font-size="8.4" font-weight="bold" text-anchor="middle" textLength="23.8" lengthAdjust="spacingAndGlyphs">Friday</text>
<text x="657.70" y="293.78" font-size="9.3" text-anchor="end" fill="#4a4a4a" textLength="3.4" lengthAdjust="spacingAndGlyphs">1</text>
<text x="627.75" y="304.50" font-size="8.4" font-weight="bold" text-anchor="middle">17</text>
<text x="722.20" y="293.78" font-size="9.3" text-anchor="end" fill="#4a4a4a" textLength="4.1" lengthAdjust="spacingAndGlyphs">2</text>
<text x="692.65" y="304.50" font-size="8.4" font-weight="bold" text-anchor="middle">18</text>
<text x="462.60" y="316.60" font-size="9.3" text-anchor="end" fill="#4a4a4a" textLength="4.1" lengthAdjust="spacingAndGlyphs">5</text>
<text x="432.95" y="327.50" font-size="8.4" font-weight="bold" text-anchor="middle">19</text>
<text x="527.70" y="316.60" font-size="9.3" text-anchor="end" fill="#4a4a4a" textLength="4.1" lengthAdjust="spacingAndGlyphs">6</text>
<text x="497.85" y="327.50" font-size="8.4" font-weight="bold" text-anchor="middle">20</text>
<text x="592.40" y="316.60" font-size="9.3" text-anchor="end" fill="#4a4a4a" textLength="4.1" lengthAdjust="spacingAndGlyphs">7</text>
<text x="562.75" y="327.50" font-size="8.4" font-weight="bold" text-anchor="middle">21</text>
<text x="657.70" y="316.60" font-size="9.3" text-anchor="end" fill="#4a4a4a" textLength="4.1" lengthAdjust="spacingAndGlyphs">8</text>
<text x="627.75" y="327.50" font-size="8.4" font-weight="bold" text-anchor="middle">22</text>
<text x="722.20" y="316.60" font-size="9.3" text-anchor="end" fill="#4a4a4a" textLength="4.1" lengthAdjust="spacingAndGlyphs">9</text>
<text x="692.65" y="327.50" font-size="8.4" font-weight="bold" text-anchor="middle">23</text>
<text x="462.60" y="340.08" font-size="9.3" text-anchor="end" fill="#4a4a4a" textLength="7.5" lengthAdjust="spacingAndGlyphs">12</text>
<text x="432.95" y="351.70" font-size="8.4" font-weight="bold" text-anchor="middle">24</text>
<text x="527.70" y="340.08" font-size="9.3" text-anchor="end" fill="#4a4a4a" textLength="7.5" lengthAdjust="spacingAndGlyphs">13</text>
<text x="497.85" y="351.70" font-size="8.4" font-weight="bold" text-anchor="middle">25</text>
<text x="592.40" y="340.08" font-size="9.3" text-anchor="end" fill="#4a4a4a" textLength="7.5" lengthAdjust="spacingAndGlyphs">14</text>
<text x="562.75" y="351.70" font-size="8.4" font-weight="bold" text-anchor="middle">26</text>
<text x="657.70" y="340.08" font-size="9.3" text-anchor="end" fill="#4a4a4a" textLength="7.5" lengthAdjust="spacingAndGlyphs">15</text>
<text x="627.75" y="351.70" font-size="8.4" font-weight="bold" text-anchor="middle">27</text>
<text x="722.20" y="340.08" font-size="9.3" text-anchor="end" fill="#4a4a4a" textLength="7.5" lengthAdjust="spacingAndGlyphs">16</text>
<text x="692.85" y="351.10" font-size="8.0" font-weight="bold" text-anchor="middle" fill="#1a1a30" textLength="13.6" lengthAdjust="spacingAndGlyphs">PLD</text>
<text x="462.60" y="364.32" font-size="9.3" text-anchor="end" fill="#4a4a4a" textLength="7.5" lengthAdjust="spacingAndGlyphs">19</text>
<text x="402.50" y="375.30" font-size="8.0" font-weight="bold" fill="#1a1a30" textLength="63" lengthAdjust="spacingAndGlyphs">President's Day</text>
<text x="527.70" y="364.32" font-size="9.3" text-anchor="end" fill="#4a4a4a" textLength="8.2" lengthAdjust="spacingAndGlyphs">20</text>
<text x="498.85" y="375.30" font-size="8.0" font-weight="bold" text-anchor="middle" fill="#1a1a30" textLength="25.1" lengthAdjust="spacingAndGlyphs">BREAK</text>
<text x="592.40" y="364.32" font-size="9.3" text-anchor="end" fill="#4a4a4a" textLength="7.5" lengthAdjust="spacingAndGlyphs">21</text>
<text x="562.75" y="376.00" font-size="8.4" font-weight="bold" text-anchor="middle">29</text>
<text x="657.70" y="364.32" font-size="9.3" text-anchor="end" fill="#4a4a4a" textLength="8.2" lengthAdjust="spacingAndGlyphs">22</text>
<text x="627.75" y="376.00" font-size="8.4" font-weight="bold" text-anchor="middle">30</text>
<text x="722.20" y="364.32" font-size="9.3" text-anchor="end" fill="#4a4a4a" textLength="8.2" lengthAdjust="spacingAndGlyphs">23</text>
<text x="692.65" y="376.00" font-size="8.4" font-weight="bold" text-anchor="middle">31</text>
<text x="462.60" y="388.38" font-size="9.3" text-anchor="end" fill="#4a4a4a" textLength="8.2" lengthAdjust="spacingAndGlyphs">26</text>
<text x="432.95" y="399.70" font-size="8.4" font-weight="bold" text-anchor="middle">32</text>
<text x="527.70" y="388.38" font-size="9.3" text-anchor="end" fill="#4a4a4a" textLength="8.2" lengthAdjust="spacingAndGlyphs">27</text>
<text x="497.85" y="399.70" font-size="8.4" font-weight="bold" text-anchor="middle">33</text>
<text x="592.40" y="388.38" font-size="9.3" text-anchor="end" fill="#4a4a4a" textLength="8.2" lengthAdjust="spacingAndGlyphs">28</text>
<text x="562.75" y="399.70" font-size="8.4" font-weight="bold" text-anchor="middle">34</text>
<text transform="translate(735.3,344.05) rotate(90)" font-size="9.8" font-weight="bold" text-anchor="middle" textLength="38.2" lengthAdjust="spacingAndGlyphs">February</text>
<text x="433.15" y="422.40" font-size="8.4" font-weight="bold" text-anchor="middle" textLength="28.1" lengthAdjust="spacingAndGlyphs">Monday</text>
<text x="498.05" y="422.40" font-size="8.4" font-weight="bold" text-anchor="middle" textLength="30.8" lengthAdjust="spacingAndGlyphs">Tuesday</text>
<text x="562.95" y="422.40" font-size="8.4" font-weight="bold" text-anchor="middle" textLength="42.2" lengthAdjust="spacingAndGlyphs">Wednesday</text>
<text x="627.95" y="422.40" font-size="8.4" font-weight="bold" text-anchor="middle" textLength="33.7" lengthAdjust="spacingAndGlyphs">Thursday</text>
<text x="692.85" y="422.40" font-size="8.4" font-weight="bold" text-anchor="middle" textLength="23.8" lengthAdjust="spacingAndGlyphs">Friday</text>
<text x="657.70" y="436.08" font-size="9.3" text-anchor="end" fill="#4a4a4a" textLength="3.4" lengthAdjust="spacingAndGlyphs">1</text>
<text x="627.75" y="447.70" font-size="8.4" font-weight="bold" text-anchor="middle">35</text>
<text x="722.20" y="436.08" font-size="9.3" text-anchor="end" fill="#4a4a4a" textLength="4.1" lengthAdjust="spacingAndGlyphs">2</text>
<text x="692.65" y="447.70" font-size="8.4" font-weight="bold" text-anchor="middle">36</text>
<text x="462.60" y="460.04" font-size="9.3" text-anchor="end" fill="#4a4a4a" textLength="4.1" lengthAdjust="spacingAndGlyphs">5</text>
<text x="432.95" y="471.30" font-size="8.4" font-weight="bold" text-anchor="middle">37</text>
<text x="527.70" y="460.04" font-size="9.3" text-anchor="end" fill="#4a4a4a" textLength="4.1" lengthAdjust="spacingAndGlyphs">6</text>
<text x="497.85" y="471.30" font-size="8.4" font-weight="bold" text-anchor="middle">38</text>
<text x="592.40" y="460.04" font-size="9.3" text-anchor="end" fill="#4a4a4a" textLength="4.1" lengthAdjust="spacingAndGlyphs">7</text>
<text x="562.75" y="471.30" font-size="8.4" font-weight="bold" text-anchor="middle">39</text>
<text x="657.70" y="460.04" font-size="9.3" text-anchor="end" fill="#4a4a4a" textLength="4.1" lengthAdjust="spacingAndGlyphs">8</text>
<text x="627.75" y="471.30" font-size="8.4" font-weight="bold" text-anchor="middle">40</text>
<text x="722.20" y="460.04" font-size="9.3" text-anchor="end" fill="#4a4a4a" textLength="4.1" lengthAdjust="spacingAndGlyphs">9</text>
<text x="692.65" y="471.30" font-size="8.4" font-weight="bold" text-anchor="middle">41</text>
<text x="462.60" y="483.92" font-size="9.3" text-anchor="end" fill="#4a4a4a" textLength="7.5" lengthAdjust="spacingAndGlyphs">12</text>
<text x="401.30" y="483.60" font-size="8.0" font-weight="bold" fill="#1a1a30" textLength="19" lengthAdjust="spacingAndGlyphs">Staff</text>
<text x="403.10" y="494.60" font-size="8.0" font-weight="bold" fill="#1a1a30" textLength="45" lengthAdjust="spacingAndGlyphs">Development</text>
<text x="527.70" y="483.92" font-size="9.3" text-anchor="end" fill="#4a4a4a" textLength="7.5" lengthAdjust="spacingAndGlyphs">13</text>
<text x="497.85" y="495.60" font-size="8.4" font-weight="bold" text-anchor="middle">42</text>
<text x="592.40" y="483.92" font-size="9.3" text-anchor="end" fill="#4a4a4a" textLength="7.5" lengthAdjust="spacingAndGlyphs">14</text>
<text x="562.75" y="495.60" font-size="8.4" font-weight="bold" text-anchor="middle">43</text>
<text x="657.70" y="483.92" font-size="9.3" text-anchor="end" fill="#4a4a4a" textLength="7.5" lengthAdjust="spacingAndGlyphs">15</text>
<text x="627.75" y="495.60" font-size="8.4" font-weight="bold" text-anchor="middle">44</text>
<text x="722.20" y="483.92" font-size="9.3" text-anchor="end" fill="#4a4a4a" textLength="7.5" lengthAdjust="spacingAndGlyphs">16</text>
<text x="692.65" y="495.60" font-size="8.4" font-weight="bold" text-anchor="middle">45</text>
<text x="462.60" y="508.02" font-size="9.3" text-anchor="end" fill="#4a4a4a" textLength="7.5" lengthAdjust="spacingAndGlyphs">19</text>
<text x="432.95" y="519.40" font-size="8.4" font-weight="bold" text-anchor="middle">46</text>
<text x="527.70" y="508.02" font-size="9.3" text-anchor="end" fill="#4a4a4a" textLength="8.2" lengthAdjust="spacingAndGlyphs">20</text>
<text x="497.85" y="519.40" font-size="8.4" font-weight="bold" text-anchor="middle">47</text>
<text x="592.40" y="508.02" font-size="9.3" text-anchor="end" fill="#4a4a4a" textLength="7.5" lengthAdjust="spacingAndGlyphs">21</text>
<text x="562.75" y="519.40" font-size="8.4" font-weight="bold" text-anchor="middle">48</text>
<text x="657.70" y="508.02" font-size="9.3" text-anchor="end" fill="#4a4a4a" textLength="8.2" lengthAdjust="spacingAndGlyphs">22</text>
<text x="627.75" y="519.40" font-size="8.4" font-weight="bold" text-anchor="middle">49</text>
<text x="722.20" y="508.02" font-size="9.3" text-anchor="end" fill="#4a4a4a" textLength="8.2" lengthAdjust="spacingAndGlyphs">23</text>
<text x="692.65" y="519.40" font-size="8.4" font-weight="bold" text-anchor="middle">50</text>
<text x="462.60" y="531.94" font-size="9.3" text-anchor="end" fill="#4a4a4a" textLength="8.2" lengthAdjust="spacingAndGlyphs">26</text>
<text x="432.95" y="543.50" font-size="8.4" font-weight="bold" text-anchor="middle">51</text>
<text x="527.70" y="531.94" font-size="9.3" text-anchor="end" fill="#4a4a4a" textLength="8.2" lengthAdjust="spacingAndGlyphs">27</text>
<text x="497.85" y="543.50" font-size="8.4" font-weight="bold" text-anchor="middle">52</text>
<text x="592.40" y="531.94" font-size="9.3" text-anchor="end" fill="#4a4a4a" textLength="8.2" lengthAdjust="spacingAndGlyphs">28</text>
<text x="562.75" y="543.50" font-size="8.4" font-weight="bold" text-anchor="middle">53</text>
<text x="657.70" y="531.94" font-size="9.3" text-anchor="end" fill="#4a4a4a" textLength="8.2" lengthAdjust="spacingAndGlyphs">29</text>
<text x="627.75" y="543.50" font-size="8.4" font-weight="bold" text-anchor="middle">54</text>
<text x="722.20" y="531.94" font-size="9.3" text-anchor="end" fill="#4a4a4a" textLength="8.2" lengthAdjust="spacingAndGlyphs">30</text>
<text x="692.65" y="543.50" font-size="8.4" font-weight="bold" text-anchor="middle">55</text>
<text transform="translate(735.3,486.80) rotate(90)" font-size="9.8" font-weight="bold" text-anchor="middle" textLength="27.1" lengthAdjust="spacingAndGlyphs">March</text>
<text x="433.15" y="565.70" font-size="8.4" font-weight="bold" text-anchor="middle" textLength="28.1" lengthAdjust="spacingAndGlyphs">Monday</text>
<text x="498.05" y="565.70" font-size="8.4" font-weight="bold" text-anchor="middle" textLength="30.8" lengthAdjust="spacingAndGlyphs">Tuesday</text>
<text x="562.95" y="565.70" font-size="8.4" font-weight="bold" text-anchor="middle" textLength="42.2" lengthAdjust="spacingAndGlyphs">Wednesday</text>
<text x="627.95" y="565.70" font-size="8.4" font-weight="bold" text-anchor="middle" textLength="33.7" lengthAdjust="spacingAndGlyphs">Thursday</text>
<text x="692.85" y="565.70" font-size="8.4" font-weight="bold" text-anchor="middle" textLength="23.8" lengthAdjust="spacingAndGlyphs">Friday</text>
<text x="462.60" y="579.52" font-size="9.3" font-weight="bold" text-anchor="end" textLength="4.1" lengthAdjust="spacingAndGlyphs">2</text>
<text x="527.70" y="579.52" font-size="9.3" text-anchor="end" fill="#4a4a4a" textLength="4.1" lengthAdjust="spacingAndGlyphs">3</text>
<text x="592.40" y="579.52" font-size="9.3" text-anchor="end" fill="#4a4a4a" textLength="4.1" lengthAdjust="spacingAndGlyphs">4</text>
<text x="657.70" y="579.52" font-size="9.3" text-anchor="end" fill="#4a4a4a" textLength="4.1" lengthAdjust="spacingAndGlyphs">5</text>
<text x="722.20" y="579.52" font-size="9.3" text-anchor="end" fill="#4a4a4a" textLength="4.1" lengthAdjust="spacingAndGlyphs">6</text>
<text x="563.00" y="591.30" font-size="8.0" font-weight="bold" text-anchor="middle" fill="#1a1a30" textLength="58.8" lengthAdjust="spacingAndGlyphs">SPRING BREAK</text>
<text x="462.60" y="603.32" font-size="9.3" text-anchor="end" fill="#4a4a4a" textLength="4.1" lengthAdjust="spacingAndGlyphs">9</text>
<text x="432.95" y="614.70" font-size="8.4" font-weight="bold" text-anchor="middle">56</text>
<text x="527.70" y="603.32" font-size="9.3" text-anchor="end" fill="#4a4a4a" textLength="7.5" lengthAdjust="spacingAndGlyphs">10</text>
<text x="497.85" y="614.70" font-size="8.4" font-weight="bold" text-anchor="middle">57</text>
<text x="592.40" y="603.32" font-size="9.3" text-anchor="end" fill="#4a4a4a" textLength="6.8" lengthAdjust="spacingAndGlyphs">11</text>
<text x="562.75" y="614.70" font-size="8.4" font-weight="bold" text-anchor="middle">58</text>
<text x="657.70" y="603.32" font-size="9.3" text-anchor="end" fill="#4a4a4a" textLength="7.5" lengthAdjust="spacingAndGlyphs">12</text>
<text x="627.75" y="614.70" font-size="8.4" font-weight="bold" text-anchor="middle">59</text>
<text x="722.20" y="603.32" font-size="9.3" text-anchor="end" fill="#4a4a4a" textLength="7.5" lengthAdjust="spacingAndGlyphs">13</text>
<text x="692.65" y="614.70" font-size="8.4" font-weight="bold" text-anchor="middle">60</text>
<text x="462.60" y="627.24" font-size="9.3" text-anchor="end" fill="#4a4a4a" textLength="7.5" lengthAdjust="spacingAndGlyphs">16</text>
<text x="432.95" y="638.80" font-size="8.4" font-weight="bold" text-anchor="middle">61</text>
<text x="527.70" y="627.24" font-size="9.3" text-anchor="end" fill="#4a4a4a" textLength="7.5" lengthAdjust="spacingAndGlyphs">17</text>
<text x="497.85" y="638.80" font-size="8.4" font-weight="bold" text-anchor="middle">62</text>
<text x="592.40" y="627.24" font-size="9.3" text-anchor="end" fill="#4a4a4a" textLength="7.5" lengthAdjust="spacingAndGlyphs">18</text>
<text x="562.75" y="638.80" font-size="8.4" font-weight="bold" text-anchor="middle">63</text>
<text x="657.70" y="627.24" font-size="9.3" text-anchor="end" fill="#4a4a4a" textLength="7.5" lengthAdjust="spacingAndGlyphs">19</text>
<text x="627.75" y="638.80" font-size="8.4" font-weight="bold" text-anchor="middle">64</text>
<text x="722.20" y="627.24" font-size="9.3" text-anchor="end" fill="#4a4a4a" textLength="8.2" lengthAdjust="spacingAndGlyphs">20</text>
<text x="692.65" y="638.80" font-size="8.4" font-weight="bold" text-anchor="middle">65</text>
<text x="462.60" y="651.26" font-size="9.3" text-anchor="end" fill="#4a4a4a" textLength="8.2" lengthAdjust="spacingAndGlyphs">23</text>
<text x="432.95" y="662.70" font-size="8.4" font-weight="bold" text-anchor="middle">66</text>
<text x="527.70" y="651.26" font-size="9.3" text-anchor="end" fill="#4a4a4a" textLength="8.2" lengthAdjust="spacingAndGlyphs">24</text>
<text x="497.85" y="662.70" font-size="8.4" font-weight="bold" text-anchor="middle">67</text>
<text x="592.40" y="651.26" font-size="9.3" text-anchor="end" fill="#4a4a4a" textLength="8.2" lengthAdjust="spacingAndGlyphs">25</text>
<text x="562.75" y="662.70" font-size="8.4" font-weight="bold" text-anchor="middle">68</text>
<text x="657.70" y="651.26" font-size="9.3" text-anchor="end" fill="#4a4a4a" textLength="8.2" lengthAdjust="spacingAndGlyphs">26</text>
<text x="627.75" y="662.70" font-size="8.4" font-weight="bold" text-anchor="middle">69</text>
<text x="722.20" y="651.26" font-size="9.3" text-anchor="end" fill="#4a4a4a" textLength="8.2" lengthAdjust="spacingAndGlyphs">27</text>
<text x="692.65" y="662.70" font-size="8.4" font-weight="bold" text-anchor="middle">70</text>
<text x="462.60" y="675.16" font-size="9.3" text-anchor="end" fill="#4a4a4a" textLength="8.2" lengthAdjust="spacingAndGlyphs">30</text>
<text x="432.95" y="686.60" font-size="8.4" font-weight="bold" text-anchor="middle">71</text>
<text transform="translate(735.3,630.15) rotate(90)" font-size="9.8" font-weight="bold" text-anchor="middle" textLength="19.6" lengthAdjust="spacingAndGlyphs">April</text>
<text x="433.15" y="709.10" font-size="8.4" font-weight="bold" text-anchor="middle" textLength="28.1" lengthAdjust="spacingAndGlyphs">Monday</text>
<text x="498.05" y="709.10" font-size="8.4" font-weight="bold" text-anchor="middle" textLength="30.8" lengthAdjust="spacingAndGlyphs">Tuesday</text>
<text x="562.95" y="709.10" font-size="8.4" font-weight="bold" text-anchor="middle" textLength="42.2" lengthAdjust="spacingAndGlyphs">Wednesday</text>
<text x="627.95" y="709.10" font-size="8.4" font-weight="bold" text-anchor="middle" textLength="33.7" lengthAdjust="spacingAndGlyphs">Thursday</text>
<text x="692.85" y="709.10" font-size="8.4" font-weight="bold" text-anchor="middle" textLength="23.8" lengthAdjust="spacingAndGlyphs">Friday</text>
<text x="527.70" y="722.92" font-size="9.3" text-anchor="end" fill="#4a4a4a" textLength="3.4" lengthAdjust="spacingAndGlyphs">1</text>
<text x="497.85" y="734.30" font-size="8.4" font-weight="bold" text-anchor="middle">72</text>
<text x="592.40" y="722.92" font-size="9.3" text-anchor="end" fill="#4a4a4a" textLength="4.1" lengthAdjust="spacingAndGlyphs">2</text>
<text x="562.75" y="734.30" font-size="8.4" font-weight="bold" text-anchor="middle">73</text>
<text x="657.70" y="722.92" font-size="9.3" text-anchor="end" fill="#4a4a4a" textLength="4.1" lengthAdjust="spacingAndGlyphs">3</text>
<text x="627.75" y="734.30" font-size="8.4" font-weight="bold" text-anchor="middle">74</text>
<text x="722.20" y="722.92" font-size="9.3" text-anchor="end" fill="#4a4a4a" textLength="4.1" lengthAdjust="spacingAndGlyphs">4</text>
<text x="692.65" y="734.30" font-size="8.4" font-weight="bold" text-anchor="middle">75</text>
<text x="462.60" y="746.72" font-size="9.3" text-anchor="end" fill="#4a4a4a" textLength="4.1" lengthAdjust="spacingAndGlyphs">7</text>
<text x="432.95" y="758.10" font-size="8.4" font-weight="bold" text-anchor="middle">77</text>
<text x="527.70" y="746.72" font-size="9.3" text-anchor="end" fill="#4a4a4a" textLength="4.1" lengthAdjust="spacingAndGlyphs">8</text>
<text x="497.85" y="758.10" font-size="8.4" font-weight="bold" text-anchor="middle">78</text>
<text x="592.40" y="746.72" font-size="9.3" text-anchor="end" fill="#4a4a4a" textLength="4.1" lengthAdjust="spacingAndGlyphs">9</text>
<text x="562.75" y="758.10" font-size="8.4" font-weight="bold" text-anchor="middle">79</text>
<text x="657.70" y="746.72" font-size="9.3" text-anchor="end" fill="#4a4a4a" textLength="7.5" lengthAdjust="spacingAndGlyphs">10</text>
<text x="627.75" y="758.10" font-size="8.4" font-weight="bold" text-anchor="middle">80</text>
<text x="722.20" y="746.72" font-size="9.3" text-anchor="end" fill="#4a4a4a" textLength="6.8" lengthAdjust="spacingAndGlyphs">11</text>
<text x="692.65" y="758.10" font-size="8.4" font-weight="bold" text-anchor="middle">81</text>
<text x="462.60" y="770.56" font-size="9.3" text-anchor="end" fill="#4a4a4a" textLength="7.5" lengthAdjust="spacingAndGlyphs">14</text>
<text x="432.95" y="782.00" font-size="8.4" font-weight="bold" text-anchor="middle">82</text>
<text x="527.70" y="770.56" font-size="9.3" text-anchor="end" fill="#4a4a4a" textLength="7.5" lengthAdjust="spacingAndGlyphs">15</text>
<text x="497.85" y="782.00" font-size="8.4" font-weight="bold" text-anchor="middle">83</text>
<text x="592.40" y="770.56" font-size="9.3" text-anchor="end" fill="#4a4a4a" textLength="7.5" lengthAdjust="spacingAndGlyphs">16</text>
<text x="562.75" y="782.00" font-size="8.4" font-weight="bold" text-anchor="middle">84</text>
<text x="657.70" y="770.56" font-size="9.3" text-anchor="end" fill="#4a4a4a" textLength="7.5" lengthAdjust="spacingAndGlyphs">17</text>
<text x="627.75" y="782.00" font-size="8.4" font-weight="bold" text-anchor="middle">85</text>
<text x="722.20" y="770.56" font-size="9.3" text-anchor="end" fill="#4a4a4a" textLength="7.5" lengthAdjust="spacingAndGlyphs">18</text>
<text x="692.65" y="782.00" font-size="8.4" font-weight="bold" text-anchor="middle">86</text>
<text x="462.60" y="793.46" font-size="9.3" text-anchor="end" fill="#4a4a4a" textLength="7.5" lengthAdjust="spacingAndGlyphs">21</text>
<text x="432.95" y="803.40" font-size="8.4" font-weight="bold" text-anchor="middle">87</text>
<text x="527.70" y="793.46" font-size="9.3" text-anchor="end" fill="#4a4a4a" textLength="8.2" lengthAdjust="spacingAndGlyphs">22</text>
<text x="497.85" y="803.40" font-size="8.4" font-weight="bold" text-anchor="middle">88</text>
<text x="489.80" y="792.10" font-size="8.0" font-weight="bold" text-anchor="middle" fill="#1a1a30" textLength="33" lengthAdjust="spacingAndGlyphs">Last Day</text>
<text x="592.40" y="793.46" font-size="9.3" text-anchor="end" fill="#4a4a4a" textLength="8.2" lengthAdjust="spacingAndGlyphs">23</text>
<text x="563.25" y="803.00" font-size="8.0" font-weight="bold" text-anchor="middle" fill="#1a1a30" textLength="48.6" lengthAdjust="spacingAndGlyphs">Post planning</text>
<text x="657.70" y="793.46" font-size="9.3" text-anchor="end" fill="#4a4a4a" textLength="8.2" lengthAdjust="spacingAndGlyphs">24</text>
<text x="628.25" y="803.00" font-size="8.0" font-weight="bold" text-anchor="middle" fill="#1a1a30" textLength="48.6" lengthAdjust="spacingAndGlyphs">Post planning</text>
<text x="722.20" y="793.46" font-size="9.3" text-anchor="end" fill="#4a4a4a" textLength="8.2" lengthAdjust="spacingAndGlyphs">25</text>
<text x="693.15" y="803.00" font-size="8.0" font-weight="bold" text-anchor="middle" fill="#1a1a30" textLength="48.6" lengthAdjust="spacingAndGlyphs">Post planning</text>
<text x="462.60" y="815.02" font-size="9.3" text-anchor="end" fill="#4a4a4a" textLength="8.2" lengthAdjust="spacingAndGlyphs">28</text>
<text x="402.10" y="824.00" font-size="8.0" font-weight="bold" fill="#1a1a30" textLength="51.6" lengthAdjust="spacingAndGlyphs">Memorial Day</text>
<text x="527.70" y="815.02" font-size="9.3" text-anchor="end" fill="#4a4a4a" textLength="8.2" lengthAdjust="spacingAndGlyphs">29</text>
<text x="592.40" y="815.02" font-size="9.3" text-anchor="end" fill="#4a4a4a" textLength="8.2" lengthAdjust="spacingAndGlyphs">30</text>
<text x="657.70" y="815.02" font-size="9.3" text-anchor="end" fill="#4a4a4a" textLength="7.5" lengthAdjust="spacingAndGlyphs">31</text>
<text transform="translate(735.3,771.15) rotate(90)" font-size="9.8" font-weight="bold" text-anchor="middle" textLength="17.5" lengthAdjust="spacingAndGlyphs">May</text>
<text x="433.15" y="847.40" font-size="8.4" font-weight="bold" text-anchor="middle" textLength="28.1" lengthAdjust="spacingAndGlyphs">Monday</text>
<text x="498.05" y="847.40" font-size="8.4" font-weight="bold" text-anchor="middle" textLength="30.8" lengthAdjust="spacingAndGlyphs">Tuesday</text>
<text x="562.95" y="847.40" font-size="8.4" font-weight="bold" text-anchor="middle" textLength="42.2" lengthAdjust="spacingAndGlyphs">Wednesday</text>
<text x="627.95" y="847.40" font-size="8.4" font-weight="bold" text-anchor="middle" textLength="33.7" lengthAdjust="spacingAndGlyphs">Thursday</text>
<text x="692.85" y="847.40" font-size="8.4" font-weight="bold" text-anchor="middle" textLength="23.8" lengthAdjust="spacingAndGlyphs">Friday</text>
<text x="722.20" y="861.02" font-size="9.3" text-anchor="end" fill="#4a4a4a" textLength="3.4" lengthAdjust="spacingAndGlyphs">1</text>
<text x="462.60" y="884.94" font-size="9.3" text-anchor="end" fill="#4a4a4a" textLength="4.1" lengthAdjust="spacingAndGlyphs">4</text>
<text x="527.70" y="884.94" font-size="9.3" text-anchor="end" fill="#4a4a4a" textLength="4.1" lengthAdjust="spacingAndGlyphs">5</text>
<text x="592.40" y="884.94" font-size="9.3" text-anchor="end" fill="#4a4a4a" textLength="4.1" lengthAdjust="spacingAndGlyphs">6</text>
<text x="657.70" y="884.94" font-size="9.3" text-anchor="end" fill="#4a4a4a" textLength="4.1" lengthAdjust="spacingAndGlyphs">7</text>
<text x="722.20" y="884.94" font-size="9.3" text-anchor="end" fill="#4a4a4a" textLength="4.1" lengthAdjust="spacingAndGlyphs">8</text>
<text x="462.60" y="909.12" font-size="9.3" text-anchor="end" fill="#4a4a4a" textLength="6.8" lengthAdjust="spacingAndGlyphs">11</text>
<text x="527.70" y="909.12" font-size="9.3" text-anchor="end" fill="#4a4a4a" textLength="7.5" lengthAdjust="spacingAndGlyphs">12</text>
<text x="592.40" y="909.12" font-size="9.3" text-anchor="end" fill="#4a4a4a" textLength="7.5" lengthAdjust="spacingAndGlyphs">13</text>
<text x="657.70" y="909.12" font-size="9.3" text-anchor="end" fill="#4a4a4a" textLength="7.5" lengthAdjust="spacingAndGlyphs">14</text>
<text x="722.20" y="909.12" font-size="9.3" text-anchor="end" fill="#4a4a4a" textLength="7.5" lengthAdjust="spacingAndGlyphs">15</text>
<text x="462.60" y="933.26" font-size="9.3" text-anchor="end" fill="#4a4a4a" textLength="7.5" lengthAdjust="spacingAndGlyphs">18</text>
<text x="527.70" y="933.26" font-size="9.3" text-anchor="end" fill="#4a4a4a" textLength="7.5" lengthAdjust="spacingAndGlyphs">19</text>
<text x="592.40" y="933.26" font-size="9.3" text-anchor="end" fill="#4a4a4a" textLength="8.2" lengthAdjust="spacingAndGlyphs">20</text>
<text x="657.70" y="933.26" font-size="9.3" text-anchor="end" fill="#4a4a4a" textLength="7.5" lengthAdjust="spacingAndGlyphs">21</text>
<text x="722.20" y="933.26" font-size="9.3" text-anchor="end" fill="#4a4a4a" textLength="8.2" lengthAdjust="spacingAndGlyphs">22</text>
<text x="462.60" y="957.16" font-size="9.3" text-anchor="end" fill="#4a4a4a" textLength="8.2" lengthAdjust="spacingAndGlyphs">25</text>
<text x="527.70" y="957.16" font-size="9.3" text-anchor="end" fill="#4a4a4a" textLength="8.2" lengthAdjust="spacingAndGlyphs">26</text>
<text x="592.40" y="957.16" font-size="9.3" text-anchor="end" fill="#4a4a4a" textLength="8.2" lengthAdjust="spacingAndGlyphs">27</text>
<text x="657.70" y="957.16" font-size="9.3" text-anchor="end" fill="#4a4a4a" textLength="8.2" lengthAdjust="spacingAndGlyphs">28</text>
<text x="722.20" y="957.16" font-size="9.3" text-anchor="end" fill="#4a4a4a" textLength="8.2" lengthAdjust="spacingAndGlyphs">29</text>
<text transform="translate(735.3,911.90) rotate(90)" font-size="9.8" font-weight="bold" text-anchor="middle" textLength="18.7" lengthAdjust="spacingAndGlyphs">June</text>
<text x="24.5" y="40.2" font-size="9.5" fill="#333" textLength="131" lengthAdjust="spacingAndGlyphs">PLD - Professional Learning Day</text>
<text x="281.2" y="63.7" font-size="16.5" stroke="#111" stroke-width="0.75" textLength="218" lengthAdjust="spacingAndGlyphs">Clayton County Public Schools</text>
<text x="291.2" y="87" font-size="15.5" textLength="195" lengthAdjust="spacingAndGlyphs">2017-2018 School Calendar</text>
<text x="187" y="107.8" font-size="13" font-weight="bold" textLength="62.6" lengthAdjust="spacingAndGlyphs">2017 (92)</text>
<text x="532" y="107.8" font-size="13" font-weight="bold" textLength="62.6" lengthAdjust="spacingAndGlyphs">2018 (88)</text>
</g>
<g id="logo" transform="translate(664.2,63.3) scale(1.09,1)" fill="none" stroke="#40739f">
<ellipse cx="0" cy="0" rx="33.9" ry="34" stroke-width="1.4"/>
<ellipse cx="0.3" cy="0.8" rx="25.9" ry="25.2" stroke-width="1.2"/>
<defs>
<path id="arcT" d="M -23.6,13.6 A 27.3 27.3 0 1 1 23.6,13.6"/>
<path id="arcB" d="M -31.1,11.3 A 33.1 33.1 0 0 0 31.1,11.3"/>
</defs>
<text font-family="Liberation Sans, sans-serif" font-size="7" font-weight="bold" fill="#40739f" stroke="#40739f" stroke-width="0.3"><textPath href="#arcT" startOffset="50%" text-anchor="middle" textLength="108" lengthAdjust="spacing">CLAYTON COUNTY PUBLIC SCHOOLS</textPath></text>
<text font-family="Liberation Sans, sans-serif" font-size="7" font-weight="bold" fill="#40739f" stroke="#40739f" stroke-width="0.3"><textPath href="#arcB" startOffset="50%" text-anchor="middle" textLength="58" lengthAdjust="spacing">JONESBORO, GA</textPath></text>
<circle cx="-24.3" cy="16.5" r="1" fill="#40739f" stroke="none"/>
<circle cx="24.8" cy="16.5" r="1" fill="#40739f" stroke="none"/>
<path d="M -11,-19 L 9,-19 L 11,-16 L 12,-13 L 11,-10 L 13,-8 L 12,-4 L 10,-1 L 8,1" stroke-width="0.9"/>
<path d="M -11,-19 L -11,-3" stroke-width="0.9"/>
<path d="M -10,12 L -9,15 L -10,18 L -8,21 L -6,23 L -4,19 L -3,12" stroke-width="0.9"/>
<path d="M -20,11.8 L -13,-2.5 L -1,-3 L 1,-1 L 3,-3 L 17.5,-2.5 L 19.5,11.8 L 2,11.8 L 0,13 L -2,11.8 Z" stroke-width="1.1"/>
<path d="M -17,9.5 L -11.5,0 M 17,9.5 L 15.5,0" stroke-width="0.6"/>
<path d="M 2,12.5 Q 6.5,17 11,12.5" stroke-width="1"/>
<rect x="-3" y="-16" width="4" height="32" stroke-width="0.9" fill="#fff"/>
<path d="M -3,-11 L 1,-11 M -3,-6 L 1,-6" stroke-width="0.7"/>
<path d="M -2.5,-16 Q -3,-21 -0.5,-22 Q 1,-19 0.5,-16 Z" stroke-width="0.8" fill="#9ab8d4"/>
</g>

<text transform="translate(410,534) rotate(-33)" font-family="Liberation Sans, sans-serif" font-size="66" font-weight="bold" text-anchor="middle" textLength="706" lengthAdjust="spacingAndGlyphs" fill="#fff" fill-opacity="0.33" stroke="#999" stroke-opacity="0.08" stroke-width="1">schoolcalendars.org</text>
</svg>
</body></html>
